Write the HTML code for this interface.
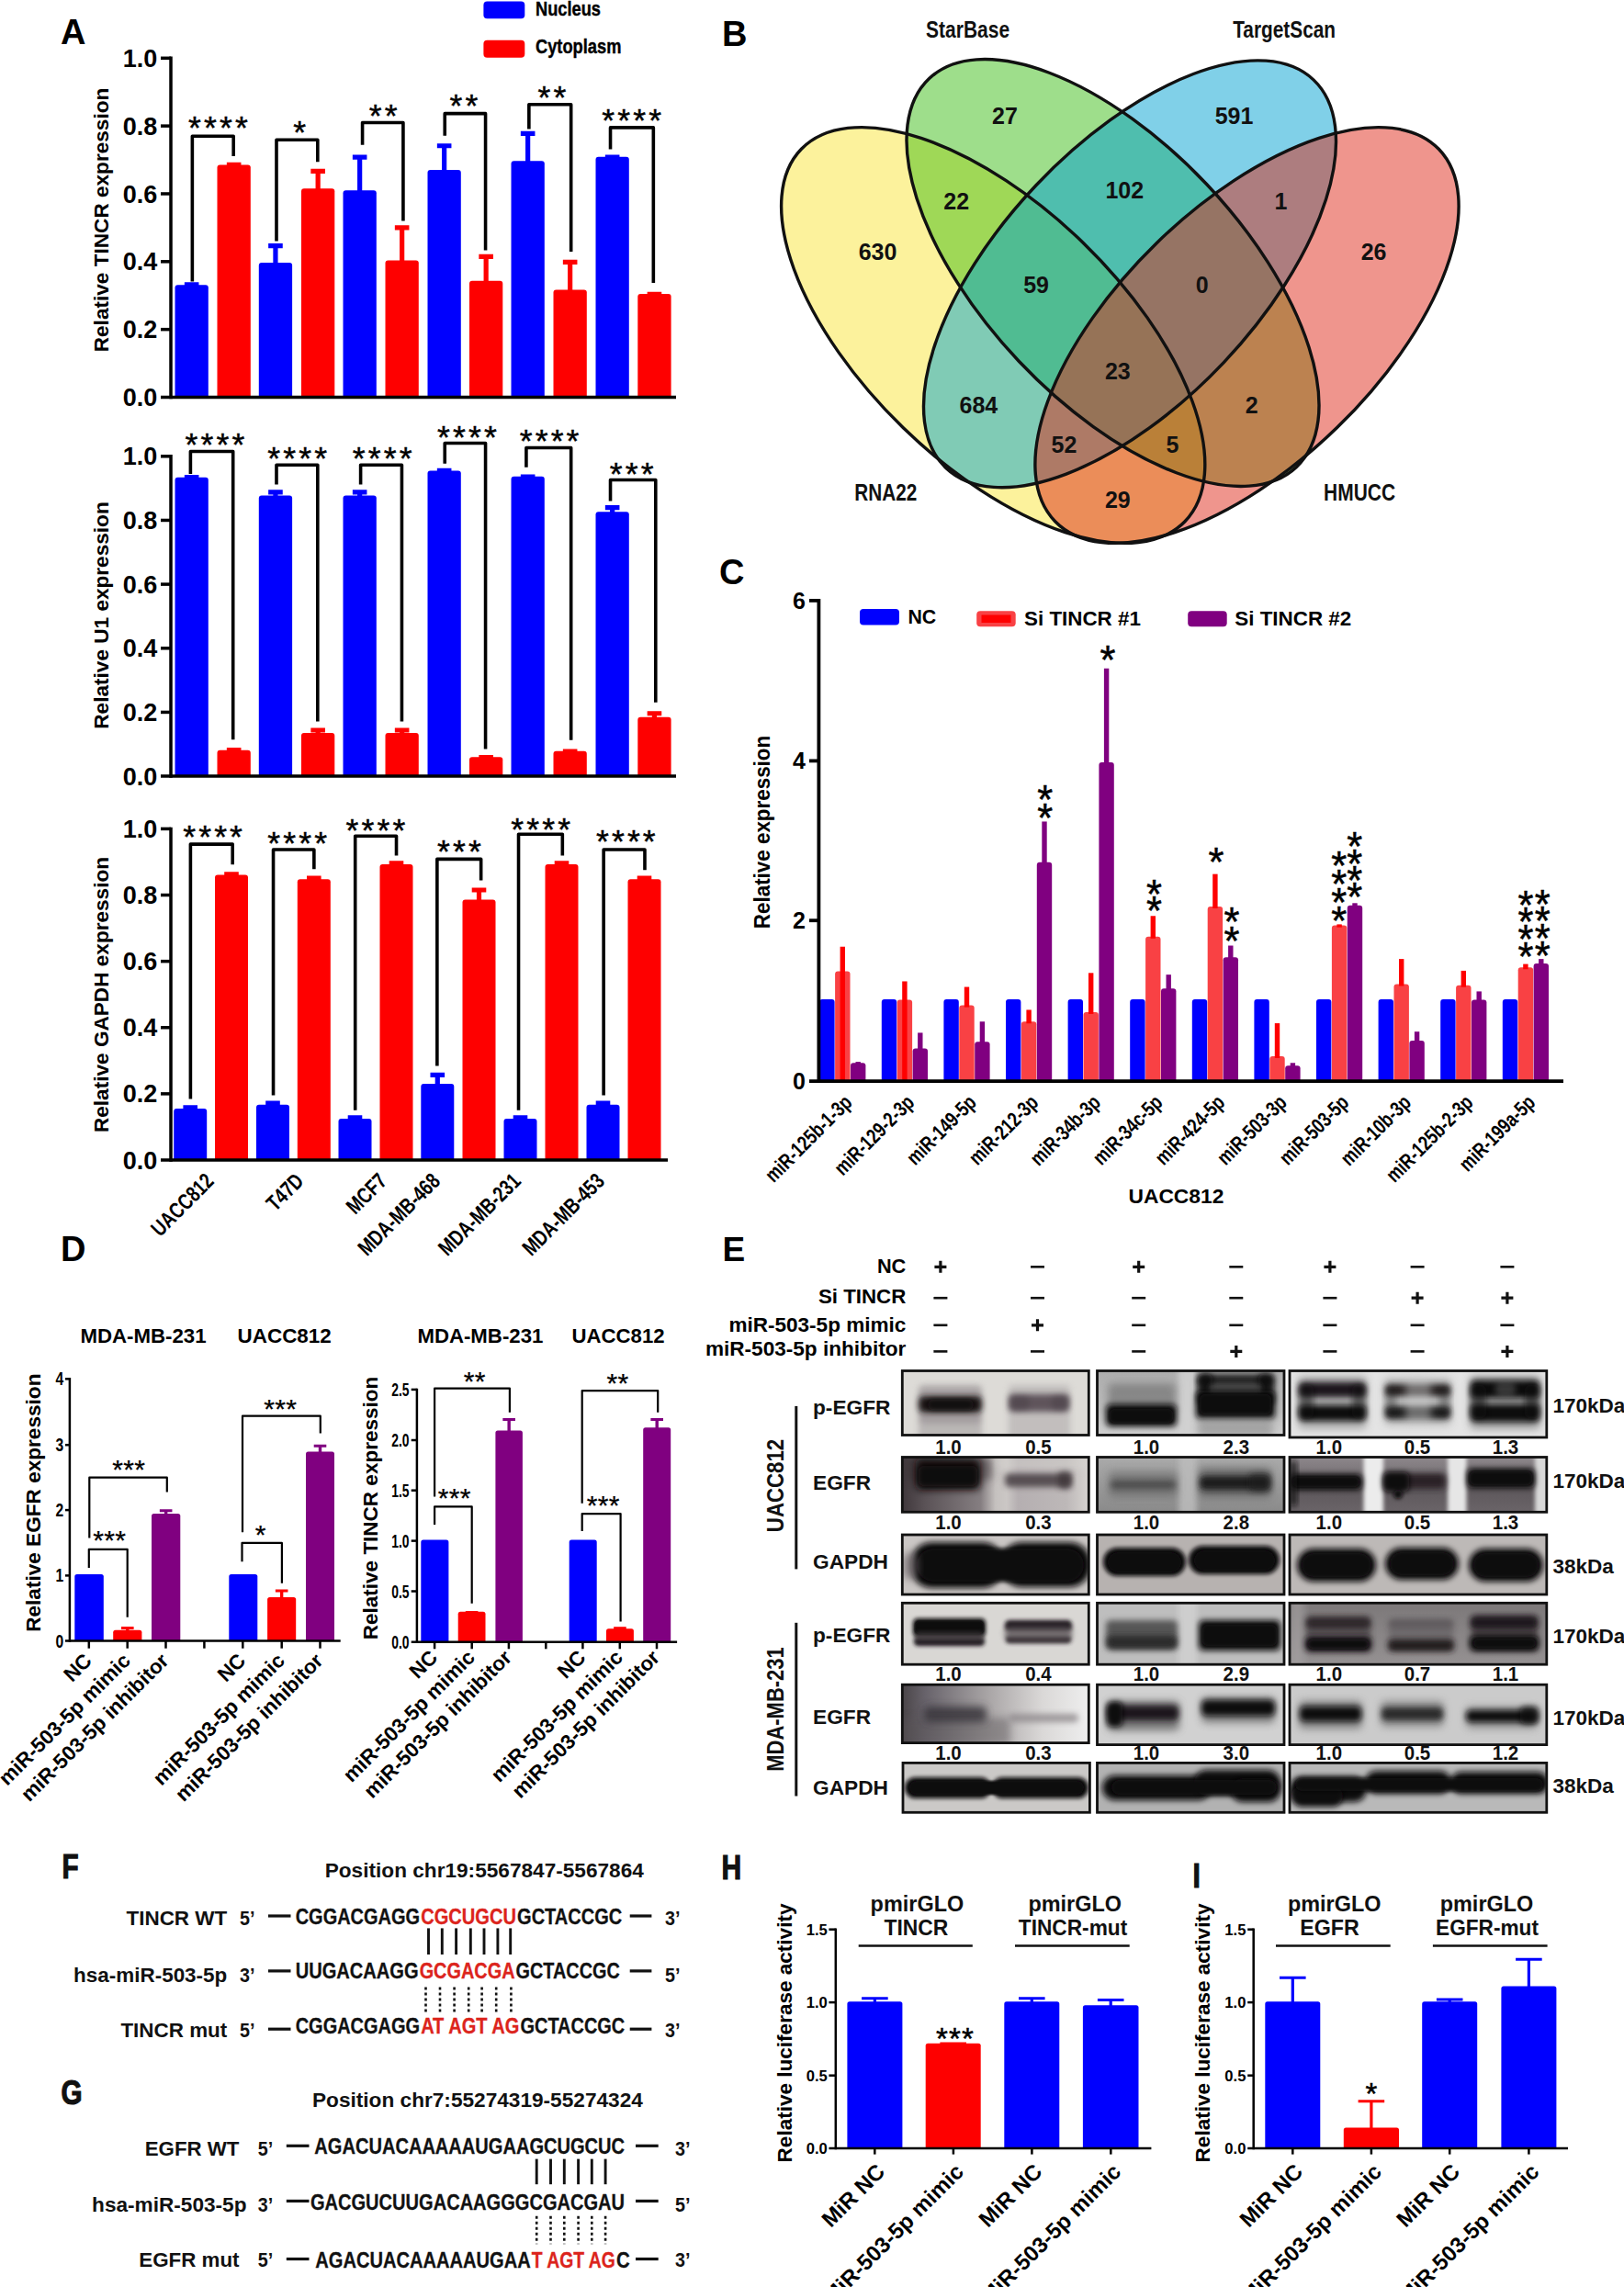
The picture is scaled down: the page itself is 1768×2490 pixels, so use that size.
<!DOCTYPE html>
<html lang="en"><head><meta charset="utf-8"><title>Figure</title>
<style>
html,body{margin:0;padding:0;background:#fff}
body{width:1768px;height:2490px;overflow:hidden}
svg{display:block}
svg text{font-family:"Liberation Sans",sans-serif;font-weight:700}
</style></head><body>
<svg width="1768" height="2490" viewBox="0 0 1768 2490">
<rect width="1768" height="2490" fill="#fff"/>
<g id="pA">
<text transform="translate(66.00 48.40)" font-size="38">A</text>
<rect x="526.40" y="1.50" width="44.90" height="18.80" fill="#0000fe" rx="4"/>
<rect x="526.40" y="43.80" width="44.90" height="19.00" fill="#fe0000" rx="4"/>
<text transform="translate(583.00 16.80) scale(0.8296 1)" font-size="22" stroke="#000" stroke-width="0.4">Nucleus</text>
<text transform="translate(583.00 58.30) scale(0.8313 1)" font-size="22" stroke="#000" stroke-width="0.4">Cytoplasm</text>
<path fill="#0000fe" d="M190.50 432.50V313.13Q190.50 310.13 193.50 310.13H223.80Q226.80 310.13 226.80 313.13V432.50Z"/>
<path fill="#0000fe" d="M200.85 307.37h15.60v5.20h-5.20V312.33h-5.20V312.57h-5.20Z"/>
<path fill="#fe0000" d="M236.50 432.50V182.59Q236.50 179.59 239.50 179.59H269.80Q272.80 179.59 272.80 182.59V432.50Z"/>
<path fill="#fe0000" d="M246.85 176.83h15.60v5.20h-5.20V181.79h-5.20V182.03h-5.20Z"/>
<path fill="#0000fe" d="M281.80 432.50V288.99Q281.80 285.99 284.80 285.99H315.10Q318.10 285.99 318.10 288.99V432.50Z"/>
<path fill="#0000fe" d="M292.15 265.00h15.60v5.20h-5.20V288.19h-5.20V270.20h-5.20Z"/>
<path fill="#fe0000" d="M328.00 432.50V208.20Q328.00 205.20 331.00 205.20H361.30Q364.30 205.20 364.30 208.20V432.50Z"/>
<path fill="#fe0000" d="M338.35 183.72h15.60v5.20h-5.20V207.40h-5.20V188.92h-5.20Z"/>
<path fill="#0000fe" d="M373.50 432.50V210.17Q373.50 207.17 376.50 207.17H406.80Q409.80 207.17 409.80 210.17V432.50Z"/>
<path fill="#0000fe" d="M383.85 168.45h15.60v5.20h-5.20V209.37h-5.20V173.65h-5.20Z"/>
<path fill="#fe0000" d="M419.50 432.50V286.53Q419.50 283.53 422.50 283.53H452.80Q455.80 283.53 455.80 286.53V432.50Z"/>
<path fill="#fe0000" d="M429.85 245.30h15.60v5.20h-5.20V285.73h-5.20V250.50h-5.20Z"/>
<path fill="#0000fe" d="M465.50 432.50V188.01Q465.50 185.01 468.50 185.01H498.80Q501.80 185.01 501.80 188.01V432.50Z"/>
<path fill="#0000fe" d="M475.85 156.14h15.60v5.20h-5.20V187.21h-5.20V161.34h-5.20Z"/>
<path fill="#fe0000" d="M511.00 432.50V308.70Q511.00 305.70 514.00 305.70H544.30Q547.30 305.70 547.30 308.70V432.50Z"/>
<path fill="#fe0000" d="M521.35 276.83h15.60v5.20h-5.20V307.90h-5.20V282.03h-5.20Z"/>
<path fill="#0000fe" d="M556.50 432.50V178.15Q556.50 175.15 559.50 175.15H589.80Q592.80 175.15 592.80 178.15V432.50Z"/>
<path fill="#0000fe" d="M566.85 142.83h15.60v5.20h-5.20V177.35h-5.20V148.03h-5.20Z"/>
<path fill="#fe0000" d="M602.50 432.50V318.55Q602.50 315.55 605.50 315.55H635.80Q638.80 315.55 638.80 318.55V432.50Z"/>
<path fill="#fe0000" d="M612.85 282.74h15.60v5.20h-5.20V317.75h-5.20V287.94h-5.20Z"/>
<path fill="#0000fe" d="M648.50 432.50V173.72Q648.50 170.72 651.50 170.72H681.80Q684.80 170.72 684.80 173.72V432.50Z"/>
<path fill="#0000fe" d="M658.85 168.45h15.60v5.20h-5.20V172.92h-5.20V173.65h-5.20Z"/>
<path fill="#fe0000" d="M694.30 432.50V322.98Q694.30 319.98 697.30 319.98H727.60Q730.60 319.98 730.60 322.98V432.50Z"/>
<path fill="#fe0000" d="M704.65 317.71h15.60v5.20h-5.20V322.18h-5.20V322.91h-5.20Z"/>
<line x1="186.00" y1="61.55" x2="186.00" y2="434.25" stroke="#000" stroke-width="3.5"/>
<line x1="175.00" y1="432.50" x2="736.00" y2="432.50" stroke="#000" stroke-width="3.5"/>
<text transform="translate(171.30 442.10)" font-size="27" text-anchor="end">0.0</text>
<line x1="175.00" y1="358.66" x2="186.00" y2="358.66" stroke="#000" stroke-width="3.5"/>
<text transform="translate(171.30 368.26)" font-size="27" text-anchor="end">0.2</text>
<line x1="175.00" y1="284.82" x2="186.00" y2="284.82" stroke="#000" stroke-width="3.5"/>
<text transform="translate(171.30 294.42)" font-size="27" text-anchor="end">0.4</text>
<line x1="175.00" y1="210.98" x2="186.00" y2="210.98" stroke="#000" stroke-width="3.5"/>
<text transform="translate(171.30 220.58)" font-size="27" text-anchor="end">0.6</text>
<line x1="175.00" y1="137.14" x2="186.00" y2="137.14" stroke="#000" stroke-width="3.5"/>
<text transform="translate(171.30 146.74)" font-size="27" text-anchor="end">0.8</text>
<line x1="175.00" y1="63.30" x2="186.00" y2="63.30" stroke="#000" stroke-width="3.5"/>
<text transform="translate(171.30 72.90)" font-size="27" text-anchor="end">1.0</text>
<text transform="translate(118.00 239.50) rotate(-90)" font-size="22.6" text-anchor="middle">Relative TINCR expression</text>
<path fill="none" stroke="#000" stroke-width="3.6" stroke-linejoin="round" d="M209.36 306.40V148.28H254.19V169.95"/>
<path fill="none" stroke="#000" stroke-width="3.6" stroke-linejoin="round" d="M300.99 262.56V152.22H345.81V176.35"/>
<path fill="none" stroke="#000" stroke-width="3.6" stroke-linejoin="round" d="M394.58 157.64V133.50H438.92V240.39"/>
<path fill="none" stroke="#000" stroke-width="3.6" stroke-linejoin="round" d="M484.24 147.78V123.65H528.57V272.41"/>
<path fill="none" stroke="#000" stroke-width="3.6" stroke-linejoin="round" d="M575.86 140.39V113.79H621.67V273.89"/>
<path fill="none" stroke="#000" stroke-width="3.6" stroke-linejoin="round" d="M664.53 162.56V138.92H711.33V307.88"/>
<text transform="translate(237.44 151.19)" font-size="35.5" text-anchor="middle" dx="1.59" letter-spacing="3.18" style="font-weight:400" stroke="#000" stroke-width="0.45">****</text>
<text transform="translate(326.11 156.12)" font-size="35.5" text-anchor="middle" dx="1.59" letter-spacing="3.18" style="font-weight:400" stroke="#000" stroke-width="0.45">*</text>
<text transform="translate(417.24 137.89)" font-size="35.5" text-anchor="middle" dx="1.59" letter-spacing="3.18" style="font-weight:400" stroke="#000" stroke-width="0.45">**</text>
<text transform="translate(504.93 126.56)" font-size="35.5" text-anchor="middle" dx="1.59" letter-spacing="3.18" style="font-weight:400" stroke="#000" stroke-width="0.45">**</text>
<text transform="translate(600.99 118.19)" font-size="35.5" text-anchor="middle" dx="1.59" letter-spacing="3.18" style="font-weight:400" stroke="#000" stroke-width="0.45">**</text>
<text transform="translate(687.68 142.82)" font-size="35.5" text-anchor="middle" dx="1.59" letter-spacing="3.18" style="font-weight:400" stroke="#000" stroke-width="0.45">****</text>
<path fill="#0000fe" d="M190.50 845.10V522.79Q190.50 519.79 193.50 519.79H223.80Q226.80 519.79 226.80 522.79V845.10Z"/>
<path fill="#0000fe" d="M200.85 517.02h15.60v5.20h-5.20V521.99h-5.20V522.22h-5.20Z"/>
<path fill="#fe0000" d="M236.50 845.10V819.83Q236.50 816.83 239.50 816.83H269.80Q272.80 816.83 272.80 819.83V845.10Z"/>
<path fill="#fe0000" d="M246.85 814.07h15.60v5.20h-5.20V819.03h-5.20V819.27h-5.20Z"/>
<path fill="#0000fe" d="M281.80 845.10V542.49Q281.80 539.49 284.80 539.49H315.10Q318.10 539.49 318.10 542.49V845.10Z"/>
<path fill="#0000fe" d="M292.15 533.28h15.60v5.20h-5.20V541.69h-5.20V538.48h-5.20Z"/>
<path fill="#fe0000" d="M328.00 845.10V801.11Q328.00 798.11 331.00 798.11H361.30Q364.30 798.11 364.30 801.11V845.10Z"/>
<path fill="#fe0000" d="M338.35 792.39h15.60v5.20h-5.20V800.31h-5.20V797.59h-5.20Z"/>
<path fill="#0000fe" d="M373.50 845.10V542.49Q373.50 539.49 376.50 539.49H406.80Q409.80 539.49 409.80 542.49V845.10Z"/>
<path fill="#0000fe" d="M383.85 533.28h15.60v5.20h-5.20V541.69h-5.20V538.48h-5.20Z"/>
<path fill="#fe0000" d="M419.50 845.10V801.11Q419.50 798.11 422.50 798.11H452.80Q455.80 798.11 455.80 801.11V845.10Z"/>
<path fill="#fe0000" d="M429.85 792.39h15.60v5.20h-5.20V800.31h-5.20V797.59h-5.20Z"/>
<path fill="#0000fe" d="M465.50 845.10V515.40Q465.50 512.40 468.50 512.40H498.80Q501.80 512.40 501.80 515.40V845.10Z"/>
<path fill="#0000fe" d="M475.85 509.63h15.60v5.20h-5.20V514.60h-5.20V514.83h-5.20Z"/>
<path fill="#fe0000" d="M511.00 845.10V827.22Q511.00 824.22 514.00 824.22H544.30Q547.30 824.22 547.30 827.22V845.10Z"/>
<path fill="#fe0000" d="M521.35 821.95h15.60v5.20h-5.20V826.42h-5.20V827.15h-5.20Z"/>
<path fill="#0000fe" d="M556.50 845.10V521.80Q556.50 518.80 559.50 518.80H589.80Q592.80 518.80 592.80 521.80V845.10Z"/>
<path fill="#0000fe" d="M566.85 516.53h15.60v5.20h-5.20V521.00h-5.20V521.73h-5.20Z"/>
<path fill="#fe0000" d="M602.50 845.10V820.81Q602.50 817.81 605.50 817.81H635.80Q638.80 817.81 638.80 820.81V845.10Z"/>
<path fill="#fe0000" d="M612.85 815.54h15.60v5.20h-5.20V820.01h-5.20V820.74h-5.20Z"/>
<path fill="#0000fe" d="M648.50 845.10V560.22Q648.50 557.22 651.50 557.22H681.80Q684.80 557.22 684.80 560.22V845.10Z"/>
<path fill="#0000fe" d="M658.85 550.03h15.60v5.20h-5.20V559.42h-5.20V555.23h-5.20Z"/>
<path fill="#fe0000" d="M694.30 845.10V783.87Q694.30 780.87 697.30 780.87H727.60Q730.60 780.87 730.60 783.87V845.10Z"/>
<path fill="#fe0000" d="M704.65 774.17h15.60v5.20h-5.20V783.07h-5.20V779.37h-5.20Z"/>
<line x1="186.00" y1="495.05" x2="186.00" y2="846.85" stroke="#000" stroke-width="3.5"/>
<line x1="175.00" y1="845.10" x2="736.00" y2="845.10" stroke="#000" stroke-width="3.5"/>
<text transform="translate(171.30 854.70)" font-size="27" text-anchor="end">0.0</text>
<line x1="175.00" y1="775.44" x2="186.00" y2="775.44" stroke="#000" stroke-width="3.5"/>
<text transform="translate(171.30 785.04)" font-size="27" text-anchor="end">0.2</text>
<line x1="175.00" y1="705.78" x2="186.00" y2="705.78" stroke="#000" stroke-width="3.5"/>
<text transform="translate(171.30 715.38)" font-size="27" text-anchor="end">0.4</text>
<line x1="175.00" y1="636.12" x2="186.00" y2="636.12" stroke="#000" stroke-width="3.5"/>
<text transform="translate(171.30 645.72)" font-size="27" text-anchor="end">0.6</text>
<line x1="175.00" y1="566.46" x2="186.00" y2="566.46" stroke="#000" stroke-width="3.5"/>
<text transform="translate(171.30 576.06)" font-size="27" text-anchor="end">0.8</text>
<line x1="175.00" y1="496.80" x2="186.00" y2="496.80" stroke="#000" stroke-width="3.5"/>
<text transform="translate(171.30 506.40)" font-size="27" text-anchor="end">1.0</text>
<text transform="translate(118.00 670.00) rotate(-90)" font-size="22.6" text-anchor="middle">Relative U1 expression</text>
<path fill="none" stroke="#000" stroke-width="3.6" stroke-linejoin="round" d="M207.39 516.06V491.43H253.69V805.22"/>
<path fill="none" stroke="#000" stroke-width="3.6" stroke-linejoin="round" d="M300.99 527.39V506.21H345.81V785.52"/>
<path fill="none" stroke="#000" stroke-width="3.6" stroke-linejoin="round" d="M392.61 527.39V506.21H437.44V785.52"/>
<path fill="none" stroke="#000" stroke-width="3.6" stroke-linejoin="round" d="M484.24 504.73V482.56H528.57V815.57"/>
<path fill="none" stroke="#000" stroke-width="3.6" stroke-linejoin="round" d="M572.91 508.67V487.49H621.67V805.71"/>
<path fill="none" stroke="#000" stroke-width="3.6" stroke-linejoin="round" d="M664.53 545.62V522.46H713.79V764.83"/>
<text transform="translate(233.99 495.82)" font-size="35.5" text-anchor="middle" dx="1.59" letter-spacing="3.18" style="font-weight:400" stroke="#000" stroke-width="0.45">****</text>
<text transform="translate(323.65 510.60)" font-size="35.5" text-anchor="middle" dx="1.59" letter-spacing="3.18" style="font-weight:400" stroke="#000" stroke-width="0.45">****</text>
<text transform="translate(416.26 510.60)" font-size="35.5" text-anchor="middle" dx="1.59" letter-spacing="3.18" style="font-weight:400" stroke="#000" stroke-width="0.45">****</text>
<text transform="translate(508.37 487.94)" font-size="35.5" text-anchor="middle" dx="1.59" letter-spacing="3.18" style="font-weight:400" stroke="#000" stroke-width="0.45">****</text>
<text transform="translate(598.03 491.88)" font-size="35.5" text-anchor="middle" dx="1.59" letter-spacing="3.18" style="font-weight:400" stroke="#000" stroke-width="0.45">****</text>
<text transform="translate(687.68 527.84)" font-size="35.5" text-anchor="middle" dx="1.59" letter-spacing="3.18" style="font-weight:400" stroke="#000" stroke-width="0.45">***</text>
<path fill="#0000fe" d="M189.20 1263.00V1210.08Q189.20 1207.08 192.20 1207.08H222.20Q225.20 1207.08 225.20 1210.08V1263.00Z"/>
<path fill="#0000fe" d="M199.40 1203.33h15.60v5.20h-5.20V1209.28h-5.20V1208.53h-5.20Z"/>
<path fill="#fe0000" d="M234.00 1263.00V955.40Q234.00 952.40 237.00 952.40H267.00Q270.00 952.40 270.00 955.40V1263.00Z"/>
<path fill="#fe0000" d="M244.20 949.14h15.60v5.20h-5.20V954.60h-5.20V954.34h-5.20Z"/>
<path fill="#0000fe" d="M279.00 1263.00V1205.64Q279.00 1202.64 282.00 1202.64H312.00Q315.00 1202.64 315.00 1205.64V1263.00Z"/>
<path fill="#0000fe" d="M289.20 1198.40h15.60v5.20h-5.20V1204.84h-5.20V1203.60h-5.20Z"/>
<path fill="#fe0000" d="M323.80 1263.00V960.32Q323.80 957.32 326.80 957.32H356.80Q359.80 957.32 359.80 960.32V1263.00Z"/>
<path fill="#fe0000" d="M334.00 953.57h15.60v5.20h-5.20V959.52h-5.20V958.77h-5.20Z"/>
<path fill="#0000fe" d="M368.50 1263.00V1220.91Q368.50 1217.91 371.50 1217.91H401.50Q404.50 1217.91 404.50 1220.91V1263.00Z"/>
<path fill="#0000fe" d="M378.70 1214.17h15.60v5.20h-5.20V1220.11h-5.20V1219.37h-5.20Z"/>
<path fill="#fe0000" d="M413.50 1263.00V944.07Q413.50 941.07 416.50 941.07H446.50Q449.50 941.07 449.50 944.07V1263.00Z"/>
<path fill="#fe0000" d="M423.70 937.32h15.60v5.20h-5.20V943.27h-5.20V942.52h-5.20Z"/>
<path fill="#0000fe" d="M458.30 1263.00V1182.98Q458.30 1179.98 461.30 1179.98H491.30Q494.30 1179.98 494.30 1182.98V1263.00Z"/>
<path fill="#0000fe" d="M468.50 1167.86h15.60v5.20h-5.20V1182.18h-5.20V1173.06h-5.20Z"/>
<path fill="#fe0000" d="M503.50 1263.00V982.49Q503.50 979.49 506.50 979.49H536.50Q539.50 979.49 539.50 982.49V1263.00Z"/>
<path fill="#fe0000" d="M513.70 966.38h15.60v5.20h-5.20V981.69h-5.20V971.58h-5.20Z"/>
<path fill="#0000fe" d="M548.50 1263.00V1220.91Q548.50 1217.91 551.50 1217.91H581.50Q584.50 1217.91 584.50 1220.91V1263.00Z"/>
<path fill="#0000fe" d="M558.70 1214.17h15.60v5.20h-5.20V1220.11h-5.20V1219.37h-5.20Z"/>
<path fill="#fe0000" d="M593.50 1263.00V944.07Q593.50 941.07 596.50 941.07H626.50Q629.50 941.07 629.50 944.07V1263.00Z"/>
<path fill="#fe0000" d="M603.70 937.32h15.60v5.20h-5.20V943.27h-5.20V942.52h-5.20Z"/>
<path fill="#0000fe" d="M638.50 1263.00V1205.64Q638.50 1202.64 641.50 1202.64H671.50Q674.50 1202.64 674.50 1205.64V1263.00Z"/>
<path fill="#0000fe" d="M648.70 1198.40h15.60v5.20h-5.20V1204.84h-5.20V1203.60h-5.20Z"/>
<path fill="#fe0000" d="M683.50 1263.00V960.32Q683.50 957.32 686.50 957.32H716.50Q719.50 957.32 719.50 960.32V1263.00Z"/>
<path fill="#fe0000" d="M693.70 953.57h15.60v5.20h-5.20V959.52h-5.20V958.77h-5.20Z"/>
<line x1="186.00" y1="900.65" x2="186.00" y2="1264.75" stroke="#000" stroke-width="3.5"/>
<line x1="175.00" y1="1263.00" x2="727.00" y2="1263.00" stroke="#000" stroke-width="3.5"/>
<text transform="translate(171.30 1272.60)" font-size="27" text-anchor="end">0.0</text>
<line x1="175.00" y1="1190.88" x2="186.00" y2="1190.88" stroke="#000" stroke-width="3.5"/>
<text transform="translate(171.30 1200.48)" font-size="27" text-anchor="end">0.2</text>
<line x1="175.00" y1="1118.76" x2="186.00" y2="1118.76" stroke="#000" stroke-width="3.5"/>
<text transform="translate(171.30 1128.36)" font-size="27" text-anchor="end">0.4</text>
<line x1="175.00" y1="1046.64" x2="186.00" y2="1046.64" stroke="#000" stroke-width="3.5"/>
<text transform="translate(171.30 1056.24)" font-size="27" text-anchor="end">0.6</text>
<line x1="175.00" y1="974.52" x2="186.00" y2="974.52" stroke="#000" stroke-width="3.5"/>
<text transform="translate(171.30 984.12)" font-size="27" text-anchor="end">0.8</text>
<line x1="175.00" y1="902.40" x2="186.00" y2="902.40" stroke="#000" stroke-width="3.5"/>
<text transform="translate(171.30 912.00)" font-size="27" text-anchor="end">1.0</text>
<text transform="translate(118.00 1083.00) rotate(-90)" font-size="22.6" text-anchor="middle">Relative GAPDH expression</text>
<path fill="none" stroke="#000" stroke-width="3.6" stroke-linejoin="round" d="M207.39 1196.45V919.11H253.20V941.28"/>
<path fill="none" stroke="#000" stroke-width="3.6" stroke-linejoin="round" d="M297.54 1192.51V925.02H341.87V946.21"/>
<path fill="none" stroke="#000" stroke-width="3.6" stroke-linejoin="round" d="M386.70 1208.77V910.25H431.53V931.43"/>
<path fill="none" stroke="#000" stroke-width="3.6" stroke-linejoin="round" d="M475.86 1160.49V935.37H523.65V958.52"/>
<path fill="none" stroke="#000" stroke-width="3.6" stroke-linejoin="round" d="M564.53 1208.77V908.28H612.32V931.43"/>
<path fill="none" stroke="#000" stroke-width="3.6" stroke-linejoin="round" d="M657.14 1192.51V925.02H701.97V947.19"/>
<text transform="translate(231.53 923.02)" font-size="35.5" text-anchor="middle" dx="1.59" letter-spacing="3.18" style="font-weight:400" stroke="#000" stroke-width="0.45">****</text>
<text transform="translate(323.65 930.41)" font-size="35.5" text-anchor="middle" dx="1.59" letter-spacing="3.18" style="font-weight:400" stroke="#000" stroke-width="0.45">****</text>
<text transform="translate(408.87 915.63)" font-size="35.5" text-anchor="middle" dx="1.59" letter-spacing="3.18" style="font-weight:400" stroke="#000" stroke-width="0.45">****</text>
<text transform="translate(500.00 939.27)" font-size="35.5" text-anchor="middle" dx="1.59" letter-spacing="3.18" style="font-weight:400" stroke="#000" stroke-width="0.45">***</text>
<text transform="translate(588.67 914.64)" font-size="35.5" text-anchor="middle" dx="1.59" letter-spacing="3.18" style="font-weight:400" stroke="#000" stroke-width="0.45">****</text>
<text transform="translate(681.28 928.44)" font-size="35.5" text-anchor="middle" dx="1.59" letter-spacing="3.18" style="font-weight:400" stroke="#000" stroke-width="0.45">****</text>
<text transform="translate(234.10 1287.50) rotate(-45) scale(0.7750 1)" font-size="24" text-anchor="end">UACC812</text>
<text transform="translate(332.00 1287.50) rotate(-45) scale(0.7750 1)" font-size="24" text-anchor="end">T47D</text>
<text transform="translate(422.50 1287.50) rotate(-45) scale(0.7750 1)" font-size="24" text-anchor="end">MCF7</text>
<text transform="translate(480.50 1287.50) rotate(-45) scale(0.7750 1)" font-size="24" text-anchor="end">MDA-MB-468</text>
<text transform="translate(568.20 1287.50) rotate(-45) scale(0.7750 1)" font-size="24" text-anchor="end">MDA-MB-231</text>
<text transform="translate(659.50 1287.50) rotate(-45) scale(0.7750 1)" font-size="24" text-anchor="end">MDA-MB-453</text>
</g>
<g id="pB">
<defs><clipPath id="vcY"><ellipse cx="0" cy="0" rx="291" ry="140.5" transform="translate(1081.20 365.00) rotate(44.15)"/></clipPath><clipPath id="vcG"><ellipse cx="0" cy="0" rx="291" ry="140.5" transform="translate(1211.50 297.00) rotate(46.6)"/></clipPath><clipPath id="vcB"><ellipse cx="0" cy="0" rx="291" ry="140.5" transform="translate(1230.00 298.30) rotate(-46.6)"/></clipPath><clipPath id="vcR"><ellipse cx="0" cy="0" rx="291" ry="140.5" transform="translate(1357.50 365.00) rotate(-44.15)"/></clipPath></defs>
<ellipse cx="0" cy="0" rx="291" ry="140.5" transform="translate(1081.20 365.00) rotate(44.15)" fill="#fcf29c"/>
<ellipse cx="0" cy="0" rx="291" ry="140.5" transform="translate(1211.50 297.00) rotate(46.6)" fill="#9ede8b"/>
<ellipse cx="0" cy="0" rx="291" ry="140.5" transform="translate(1230.00 298.30) rotate(-46.6)" fill="#80d0e8"/>
<ellipse cx="0" cy="0" rx="291" ry="140.5" transform="translate(1357.50 365.00) rotate(-44.15)" fill="#ef958d"/>
<g clip-path="url(#vcG)"><ellipse cx="0" cy="0" rx="291" ry="140.5" transform="translate(1081.20 365.00) rotate(44.15)" fill="#9fd857"/></g>
<g clip-path="url(#vcB)"><ellipse cx="0" cy="0" rx="291" ry="140.5" transform="translate(1211.50 297.00) rotate(46.6)" fill="#4fbeae"/></g>
<g clip-path="url(#vcR)"><ellipse cx="0" cy="0" rx="291" ry="140.5" transform="translate(1230.00 298.30) rotate(-46.6)" fill="#ad7d7f"/></g>
<g clip-path="url(#vcB)"><ellipse cx="0" cy="0" rx="291" ry="140.5" transform="translate(1081.20 365.00) rotate(44.15)" fill="#80cbb5"/></g>
<g clip-path="url(#vcR)"><ellipse cx="0" cy="0" rx="291" ry="140.5" transform="translate(1211.50 297.00) rotate(46.6)" fill="#bc8250"/></g>
<g clip-path="url(#vcR)"><ellipse cx="0" cy="0" rx="291" ry="140.5" transform="translate(1081.20 365.00) rotate(44.15)" fill="#eb8d59"/></g>
<g clip-path="url(#vcB)"><g clip-path="url(#vcG)"><ellipse cx="0" cy="0" rx="291" ry="140.5" transform="translate(1081.20 365.00) rotate(44.15)" fill="#50bc92"/></g></g>
<g clip-path="url(#vcR)"><g clip-path="url(#vcB)"><ellipse cx="0" cy="0" rx="291" ry="140.5" transform="translate(1211.50 297.00) rotate(46.6)" fill="#967464"/></g></g>
<g clip-path="url(#vcR)"><g clip-path="url(#vcB)"><ellipse cx="0" cy="0" rx="291" ry="140.5" transform="translate(1081.20 365.00) rotate(44.15)" fill="#ae7a66"/></g></g>
<g clip-path="url(#vcR)"><g clip-path="url(#vcG)"><ellipse cx="0" cy="0" rx="291" ry="140.5" transform="translate(1081.20 365.00) rotate(44.15)" fill="#ba8038"/></g></g>
<g clip-path="url(#vcR)"><g clip-path="url(#vcB)"><g clip-path="url(#vcG)"><ellipse cx="0" cy="0" rx="291" ry="140.5" transform="translate(1081.20 365.00) rotate(44.15)" fill="#967357"/></g></g></g>
<ellipse cx="0" cy="0" rx="291" ry="140.5" transform="translate(1081.20 365.00) rotate(44.15)" fill="none" stroke="#111" stroke-width="3.4"/>
<ellipse cx="0" cy="0" rx="291" ry="140.5" transform="translate(1211.50 297.00) rotate(46.6)" fill="none" stroke="#111" stroke-width="3.4"/>
<ellipse cx="0" cy="0" rx="291" ry="140.5" transform="translate(1230.00 298.30) rotate(-46.6)" fill="none" stroke="#111" stroke-width="3.4"/>
<ellipse cx="0" cy="0" rx="291" ry="140.5" transform="translate(1357.50 365.00) rotate(-44.15)" fill="none" stroke="#111" stroke-width="3.4"/>
<text transform="translate(1093.95 135.01)" font-size="25" text-anchor="middle" fill="#111">27</text>
<text transform="translate(1343.49 135.01)" font-size="25" text-anchor="middle" fill="#111">591</text>
<text transform="translate(1041.19 228.12)" font-size="25" text-anchor="middle" fill="#111">22</text>
<text transform="translate(1224.31 215.70)" font-size="25" text-anchor="middle" fill="#111">102</text>
<text transform="translate(1394.39 228.12)" font-size="25" text-anchor="middle" fill="#111">1</text>
<text transform="translate(955.53 282.74)" font-size="25" text-anchor="middle" fill="#111">630</text>
<text transform="translate(1495.57 282.74)" font-size="25" text-anchor="middle" fill="#111">26</text>
<text transform="translate(1128.09 319.37)" font-size="25" text-anchor="middle" fill="#111">59</text>
<text transform="translate(1308.73 319.37)" font-size="25" text-anchor="middle" fill="#111">0</text>
<text transform="translate(1216.86 413.10)" font-size="25" text-anchor="middle" fill="#111">23</text>
<text transform="translate(1065.40 450.34)" font-size="25" text-anchor="middle" fill="#111">684</text>
<text transform="translate(1362.73 450.34)" font-size="25" text-anchor="middle" fill="#111">2</text>
<text transform="translate(1158.51 492.55)" font-size="25" text-anchor="middle" fill="#111">52</text>
<text transform="translate(1276.45 492.55)" font-size="25" text-anchor="middle" fill="#111">5</text>
<text transform="translate(1216.86 553.38)" font-size="25" text-anchor="middle" fill="#111">29</text>
<text transform="translate(1053.61 41.28) scale(0.8395 1)" font-size="25" text-anchor="middle" fill="#111">StarBase</text>
<text transform="translate(1398.11 41.28) scale(0.8339 1)" font-size="25" text-anchor="middle" fill="#111">TargetScan</text>
<text transform="translate(964.22 544.69) scale(0.8296 1)" font-size="25" text-anchor="middle" fill="#111">RNA22</text>
<text transform="translate(1480.05 544.69) scale(0.8383 1)" font-size="25" text-anchor="middle" fill="#111">HMUCC</text>
<text transform="translate(786.00 49.70)" font-size="38">B</text>
</g>
<g id="pC">
<path fill="#0000fe" d="M892.20 1177.20V1090.90Q892.20 1087.90 895.20 1087.90H905.60Q908.60 1087.90 908.60 1090.90V1177.20Z"/>
<path fill="#f94144" d="M909.10 1177.20V1060.50Q909.10 1057.50 912.10 1057.50H922.50Q925.50 1057.50 925.50 1060.50V1177.20Z"/>
<rect x="914.60" y="1030.74" width="5.40" height="146.46" fill="#fe0000"/>
<path fill="#800080" d="M926.00 1177.20V1160.28Q926.00 1157.28 929.00 1157.28H939.40Q942.40 1157.28 942.40 1160.28V1177.20Z"/>
<rect x="931.50" y="1156.06" width="5.40" height="3.22" fill="#800080"/>
<path fill="#0000fe" d="M959.80 1177.20V1090.90Q959.80 1087.90 962.80 1087.90H973.20Q976.20 1087.90 976.20 1090.90V1177.20Z"/>
<path fill="#f94144" d="M976.70 1177.20V1091.53Q976.70 1088.53 979.70 1088.53H990.10Q993.10 1088.53 993.10 1091.53V1177.20Z"/>
<rect x="982.20" y="1068.46" width="5.40" height="108.74" fill="#fe0000"/>
<path fill="#800080" d="M993.60 1177.20V1144.46Q993.60 1141.46 996.60 1141.46H1007.00Q1010.00 1141.46 1010.00 1144.46V1177.20Z"/>
<rect x="999.10" y="1124.43" width="5.40" height="19.03" fill="#800080"/>
<path fill="#0000fe" d="M1027.40 1177.20V1090.90Q1027.40 1087.90 1030.40 1087.90H1040.80Q1043.80 1087.90 1043.80 1090.90V1177.20Z"/>
<path fill="#f94144" d="M1044.30 1177.20V1097.62Q1044.30 1094.62 1047.30 1094.62H1057.70Q1060.70 1094.62 1060.70 1097.62V1177.20Z"/>
<rect x="1049.80" y="1074.54" width="5.40" height="22.08" fill="#fe0000"/>
<path fill="#800080" d="M1061.20 1177.20V1137.16Q1061.20 1134.16 1064.20 1134.16H1074.60Q1077.60 1134.16 1077.60 1137.16V1177.20Z"/>
<rect x="1066.70" y="1112.26" width="5.40" height="23.90" fill="#800080"/>
<path fill="#0000fe" d="M1095.00 1177.20V1090.90Q1095.00 1087.90 1098.00 1087.90H1108.40Q1111.40 1087.90 1111.40 1090.90V1177.20Z"/>
<path fill="#f94144" d="M1111.90 1177.20V1115.26Q1111.90 1112.26 1114.90 1112.26H1125.30Q1128.30 1112.26 1128.30 1115.26V1177.20Z"/>
<rect x="1117.40" y="1099.48" width="5.40" height="14.78" fill="#fe0000"/>
<path fill="#800080" d="M1128.80 1177.20V941.87Q1128.80 938.87 1131.80 938.87H1142.20Q1145.20 938.87 1145.20 941.87V1177.20Z"/>
<rect x="1134.30" y="894.46" width="5.40" height="46.41" fill="#800080"/>
<path fill="#0000fe" d="M1162.60 1177.20V1090.90Q1162.60 1087.90 1165.60 1087.90H1176.00Q1179.00 1087.90 1179.00 1090.90V1177.20Z"/>
<path fill="#f94144" d="M1179.50 1177.20V1104.92Q1179.50 1101.92 1182.50 1101.92H1192.90Q1195.90 1101.92 1195.90 1104.92V1177.20Z"/>
<rect x="1185.00" y="1059.33" width="5.40" height="44.59" fill="#fe0000"/>
<path fill="#800080" d="M1196.40 1177.20V832.97Q1196.40 829.97 1199.40 829.97H1209.80Q1212.80 829.97 1212.80 832.97V1177.20Z"/>
<rect x="1201.90" y="727.76" width="5.40" height="104.21" fill="#800080"/>
<path fill="#0000fe" d="M1230.20 1177.20V1090.90Q1230.20 1087.90 1233.20 1087.90H1243.60Q1246.60 1087.90 1246.60 1090.90V1177.20Z"/>
<path fill="#f94144" d="M1247.10 1177.20V1022.78Q1247.10 1019.78 1250.10 1019.78H1260.50Q1263.50 1019.78 1263.50 1022.78V1177.20Z"/>
<rect x="1252.60" y="997.27" width="5.40" height="24.51" fill="#fe0000"/>
<path fill="#800080" d="M1264.00 1177.20V1079.36Q1264.00 1076.36 1267.00 1076.36H1277.40Q1280.40 1076.36 1280.40 1079.36V1177.20Z"/>
<rect x="1269.50" y="1061.15" width="5.40" height="17.21" fill="#800080"/>
<path fill="#0000fe" d="M1297.80 1177.20V1090.90Q1297.80 1087.90 1300.80 1087.90H1311.20Q1314.20 1087.90 1314.20 1090.90V1177.20Z"/>
<path fill="#f94144" d="M1314.70 1177.20V989.93Q1314.70 986.93 1317.70 986.93H1328.10Q1331.10 986.93 1331.10 989.93V1177.20Z"/>
<rect x="1320.20" y="951.65" width="5.40" height="37.29" fill="#fe0000"/>
<path fill="#800080" d="M1331.60 1177.20V1045.29Q1331.60 1042.29 1334.60 1042.29H1345.00Q1348.00 1042.29 1348.00 1045.29V1177.20Z"/>
<rect x="1337.10" y="1029.52" width="5.40" height="14.78" fill="#800080"/>
<path fill="#0000fe" d="M1365.40 1177.20V1090.90Q1365.40 1087.90 1368.40 1087.90H1378.80Q1381.80 1087.90 1381.80 1090.90V1177.20Z"/>
<path fill="#f94144" d="M1382.30 1177.20V1152.98Q1382.30 1149.98 1385.30 1149.98H1395.70Q1398.70 1149.98 1398.70 1152.98V1177.20Z"/>
<rect x="1387.80" y="1114.08" width="5.40" height="37.89" fill="#fe0000"/>
<path fill="#800080" d="M1399.20 1177.20V1163.32Q1399.20 1160.32 1402.20 1160.32H1412.60Q1415.60 1160.32 1415.60 1163.32V1177.20Z"/>
<rect x="1404.70" y="1157.28" width="5.40" height="5.04" fill="#800080"/>
<path fill="#0000fe" d="M1433.00 1177.20V1090.90Q1433.00 1087.90 1436.00 1087.90H1446.40Q1449.40 1087.90 1449.40 1090.90V1177.20Z"/>
<path fill="#f94144" d="M1449.90 1177.20V1010.62Q1449.90 1007.62 1452.90 1007.62H1463.30Q1466.30 1007.62 1466.30 1010.62V1177.20Z"/>
<rect x="1455.40" y="1006.40" width="5.40" height="3.22" fill="#fe0000"/>
<path fill="#800080" d="M1466.80 1177.20V988.72Q1466.80 985.72 1469.80 985.72H1480.20Q1483.20 985.72 1483.20 988.72V1177.20Z"/>
<rect x="1472.30" y="983.28" width="5.40" height="4.43" fill="#800080"/>
<path fill="#0000fe" d="M1500.60 1177.20V1090.90Q1500.60 1087.90 1503.60 1087.90H1514.00Q1517.00 1087.90 1517.00 1090.90V1177.20Z"/>
<path fill="#f94144" d="M1517.50 1177.20V1074.50Q1517.50 1071.50 1520.50 1071.50H1530.90Q1533.90 1071.50 1533.90 1074.50V1177.20Z"/>
<rect x="1523.00" y="1044.12" width="5.40" height="29.38" fill="#fe0000"/>
<path fill="#800080" d="M1534.40 1177.20V1135.94Q1534.40 1132.94 1537.40 1132.94H1547.80Q1550.80 1132.94 1550.80 1135.94V1177.20Z"/>
<rect x="1539.90" y="1123.21" width="5.40" height="11.73" fill="#800080"/>
<path fill="#0000fe" d="M1568.20 1177.20V1090.90Q1568.20 1087.90 1571.20 1087.90H1581.60Q1584.60 1087.90 1584.60 1090.90V1177.20Z"/>
<path fill="#f94144" d="M1585.10 1177.20V1075.71Q1585.10 1072.71 1588.10 1072.71H1598.50Q1601.50 1072.71 1601.50 1075.71V1177.20Z"/>
<rect x="1590.60" y="1056.90" width="5.40" height="17.82" fill="#fe0000"/>
<path fill="#800080" d="M1602.00 1177.20V1091.53Q1602.00 1088.53 1605.00 1088.53H1615.40Q1618.40 1088.53 1618.40 1091.53V1177.20Z"/>
<rect x="1607.50" y="1079.41" width="5.40" height="11.13" fill="#800080"/>
<path fill="#0000fe" d="M1635.80 1177.20V1090.90Q1635.80 1087.90 1638.80 1087.90H1649.20Q1652.20 1087.90 1652.20 1090.90V1177.20Z"/>
<path fill="#f94144" d="M1652.70 1177.20V1056.25Q1652.70 1053.25 1655.70 1053.25H1666.10Q1669.10 1053.25 1669.10 1056.25V1177.20Z"/>
<rect x="1658.20" y="1049.60" width="5.40" height="5.65" fill="#fe0000"/>
<path fill="#800080" d="M1669.60 1177.20V1051.99Q1669.60 1048.99 1672.60 1048.99H1683.00Q1686.00 1048.99 1686.00 1051.99V1177.20Z"/>
<rect x="1675.10" y="1044.12" width="5.40" height="6.87" fill="#800080"/>
<line x1="891.40" y1="652.00" x2="891.40" y2="1179.10" stroke="#000" stroke-width="3.8"/>
<line x1="881.00" y1="1177.20" x2="1702.00" y2="1177.20" stroke="#000" stroke-width="3.8"/>
<line x1="881.00" y1="653.90" x2="891.40" y2="653.90" stroke="#000" stroke-width="3.8"/>
<text transform="translate(877.00 662.90)" font-size="25" text-anchor="end">6</text>
<line x1="881.00" y1="828.40" x2="891.40" y2="828.40" stroke="#000" stroke-width="3.8"/>
<text transform="translate(877.00 837.40)" font-size="25" text-anchor="end">4</text>
<line x1="881.00" y1="1002.20" x2="891.40" y2="1002.20" stroke="#000" stroke-width="3.8"/>
<text transform="translate(877.00 1011.20)" font-size="25" text-anchor="end">2</text>
<text transform="translate(877.00 1186.20)" font-size="25" text-anchor="end">0</text>
<text transform="translate(838.30 906.00) rotate(-90) scale(0.9743 1)" font-size="23" text-anchor="middle">Relative expression</text>
<text transform="translate(1280.40 1309.50)" font-size="22.8" text-anchor="middle">UACC812</text>
<text transform="translate(783.00 636.00)" font-size="38">C</text>
<rect x="936.00" y="663.00" width="43.00" height="17.60" fill="#0000fe" rx="4"/>
<text transform="translate(988.40 679.30) scale(0.9520 1)" font-size="22.4">NC</text>
<rect x="1063.20" y="665.30" width="42.50" height="16.90" fill="#f94144" rx="4"/>
<rect x="1068.50" y="669.50" width="32.00" height="8.50" fill="#fe0000"/>
<text transform="translate(1115.00 681.00)" font-size="22.4">Si TINCR #1</text>
<rect x="1293.20" y="665.30" width="42.50" height="16.90" fill="#800080" rx="4"/>
<text transform="translate(1344.30 681.00)" font-size="22.4">Si TINCR #2</text>
<text transform="translate(1137.73 863.43)" font-size="43.5" text-anchor="middle" y="22.32" style="font-weight:400" stroke="#000" stroke-width="0.5">*</text>
<text transform="translate(1137.73 883.51)" font-size="43.5" text-anchor="middle" y="22.32" style="font-weight:400" stroke="#000" stroke-width="0.5">*</text>
<text transform="translate(1205.87 711.33)" font-size="43.5" text-anchor="middle" y="22.32" style="font-weight:400" stroke="#000" stroke-width="0.5">*</text>
<text transform="translate(1256.36 966.25)" font-size="43.5" text-anchor="middle" y="22.32" style="font-weight:400" stroke="#000" stroke-width="0.5">*</text>
<text transform="translate(1256.36 985.11)" font-size="43.5" text-anchor="middle" y="22.32" style="font-weight:400" stroke="#000" stroke-width="0.5">*</text>
<text transform="translate(1323.89 931.57)" font-size="43.5" text-anchor="middle" y="22.32" style="font-weight:400" stroke="#000" stroke-width="0.5">*</text>
<text transform="translate(1340.93 996.67)" font-size="43.5" text-anchor="middle" y="22.32" style="font-weight:400" stroke="#000" stroke-width="0.5">*</text>
<text transform="translate(1340.93 1017.35)" font-size="43.5" text-anchor="middle" y="22.32" style="font-weight:400" stroke="#000" stroke-width="0.5">*</text>
<text transform="translate(1457.74 935.83)" font-size="43.5" text-anchor="middle" y="22.32" style="font-weight:400" stroke="#000" stroke-width="0.5">*</text>
<text transform="translate(1457.74 955.90)" font-size="43.5" text-anchor="middle" y="22.32" style="font-weight:400" stroke="#000" stroke-width="0.5">*</text>
<text transform="translate(1457.74 975.98)" font-size="43.5" text-anchor="middle" y="22.32" style="font-weight:400" stroke="#000" stroke-width="0.5">*</text>
<text transform="translate(1457.74 996.06)" font-size="43.5" text-anchor="middle" y="22.32" style="font-weight:400" stroke="#000" stroke-width="0.5">*</text>
<text transform="translate(1474.77 915.14)" font-size="43.5" text-anchor="middle" y="22.32" style="font-weight:400" stroke="#000" stroke-width="0.5">*</text>
<text transform="translate(1474.77 933.39)" font-size="43.5" text-anchor="middle" y="22.32" style="font-weight:400" stroke="#000" stroke-width="0.5">*</text>
<text transform="translate(1474.77 951.65)" font-size="43.5" text-anchor="middle" y="22.32" style="font-weight:400" stroke="#000" stroke-width="0.5">*</text>
<text transform="translate(1474.77 969.90)" font-size="43.5" text-anchor="middle" y="22.32" style="font-weight:400" stroke="#000" stroke-width="0.5">*</text>
<text transform="translate(1660.94 978.41)" font-size="43.5" text-anchor="middle" y="22.32" style="font-weight:400" stroke="#000" stroke-width="0.5">*</text>
<text transform="translate(1660.94 996.67)" font-size="43.5" text-anchor="middle" y="22.32" style="font-weight:400" stroke="#000" stroke-width="0.5">*</text>
<text transform="translate(1660.94 1015.53)" font-size="43.5" text-anchor="middle" y="22.32" style="font-weight:400" stroke="#000" stroke-width="0.5">*</text>
<text transform="translate(1660.94 1034.39)" font-size="43.5" text-anchor="middle" y="22.32" style="font-weight:400" stroke="#000" stroke-width="0.5">*</text>
<text transform="translate(1679.19 977.20)" font-size="43.5" text-anchor="middle" y="22.32" style="font-weight:400" stroke="#000" stroke-width="0.5">*</text>
<text transform="translate(1679.19 996.06)" font-size="43.5" text-anchor="middle" y="22.32" style="font-weight:400" stroke="#000" stroke-width="0.5">*</text>
<text transform="translate(1679.19 1014.92)" font-size="43.5" text-anchor="middle" y="22.32" style="font-weight:400" stroke="#000" stroke-width="0.5">*</text>
<text transform="translate(1679.19 1033.78)" font-size="43.5" text-anchor="middle" y="22.32" style="font-weight:400" stroke="#000" stroke-width="0.5">*</text>
<text transform="translate(929.00 1201.80) rotate(-45) scale(0.7750 1)" font-size="23" text-anchor="end">miR-125b-1-3p</text>
<text transform="translate(996.60 1201.80) rotate(-45) scale(0.7750 1)" font-size="23" text-anchor="end">miR-129-2-3p</text>
<text transform="translate(1064.20 1201.80) rotate(-45) scale(0.7750 1)" font-size="23" text-anchor="end">miR-149-5p</text>
<text transform="translate(1131.80 1201.80) rotate(-45) scale(0.7750 1)" font-size="23" text-anchor="end">miR-212-3p</text>
<text transform="translate(1199.40 1201.80) rotate(-45) scale(0.7750 1)" font-size="23" text-anchor="end">miR-34b-3p</text>
<text transform="translate(1267.00 1201.80) rotate(-45) scale(0.7750 1)" font-size="23" text-anchor="end">miR-34c-5p</text>
<text transform="translate(1334.60 1201.80) rotate(-45) scale(0.7750 1)" font-size="23" text-anchor="end">miR-424-5p</text>
<text transform="translate(1402.20 1201.80) rotate(-45) scale(0.7750 1)" font-size="23" text-anchor="end">miR-503-3p</text>
<text transform="translate(1469.80 1201.80) rotate(-45) scale(0.7750 1)" font-size="23" text-anchor="end">miR-503-5p</text>
<text transform="translate(1537.40 1201.80) rotate(-45) scale(0.7750 1)" font-size="23" text-anchor="end">miR-10b-3p</text>
<text transform="translate(1605.00 1201.80) rotate(-45) scale(0.7750 1)" font-size="23" text-anchor="end">miR-125b-2-3p</text>
<text transform="translate(1672.60 1201.80) rotate(-45) scale(0.7750 1)" font-size="23" text-anchor="end">miR-199a-5p</text>
</g>
<g id="pD">
<path fill="#0000fe" d="M81.30 1786.50V1716.40Q81.30 1713.90 83.80 1713.90H110.30Q112.80 1713.90 112.80 1716.40V1786.50Z"/>
<path fill="#fe0000" d="M123.20 1786.50V1777.20Q123.20 1774.70 125.70 1774.70H151.90Q154.40 1774.70 154.40 1777.20V1786.50Z"/>
<path fill="#fe0000" d="M132.00 1771.00h13.60v3.00h-5.10V1775.70h-3.40V1774.00h-5.10Z"/>
<path fill="#800080" d="M165.00 1786.50V1650.60Q165.00 1648.10 167.50 1648.10H193.80Q196.30 1648.10 196.30 1650.60V1786.50Z"/>
<path fill="#800080" d="M173.85 1643.20h13.60v3.00h-5.10V1649.10h-3.40V1646.20h-5.10Z"/>
<path fill="#0000fe" d="M249.30 1786.50V1716.40Q249.30 1713.90 251.80 1713.90H277.80Q280.30 1713.90 280.30 1716.40V1786.50Z"/>
<path fill="#fe0000" d="M291.10 1786.50V1741.50Q291.10 1739.00 293.60 1739.00H319.70Q322.20 1739.00 322.20 1741.50V1786.50Z"/>
<path fill="#fe0000" d="M299.85 1730.60h13.60v3.00h-5.10V1740.00h-3.40V1733.60h-5.10Z"/>
<path fill="#800080" d="M333.00 1786.50V1583.10Q333.00 1580.60 335.50 1580.60H361.50Q364.00 1580.60 364.00 1583.10V1786.50Z"/>
<path fill="#800080" d="M341.70 1572.70h13.60v3.00h-5.10V1581.60h-3.40V1575.70h-5.10Z"/>
<line x1="75.90" y1="1500.00" x2="75.90" y2="1787.75" stroke="#000" stroke-width="2.5"/>
<line x1="71.00" y1="1786.50" x2="370.70" y2="1786.50" stroke="#000" stroke-width="2.5"/>
<text transform="translate(69.30 1793.50) scale(0.8000 1)" font-size="19.6" text-anchor="end">0</text>
<line x1="71.00" y1="1715.40" x2="75.90" y2="1715.40" stroke="#000" stroke-width="2.5"/>
<text transform="translate(69.30 1722.40) scale(0.8000 1)" font-size="19.6" text-anchor="end">1</text>
<line x1="71.00" y1="1644.10" x2="75.90" y2="1644.10" stroke="#000" stroke-width="2.5"/>
<text transform="translate(69.30 1651.10) scale(0.8000 1)" font-size="19.6" text-anchor="end">2</text>
<line x1="71.00" y1="1573.20" x2="75.90" y2="1573.20" stroke="#000" stroke-width="2.5"/>
<text transform="translate(69.30 1580.20) scale(0.8000 1)" font-size="19.6" text-anchor="end">3</text>
<line x1="71.00" y1="1501.30" x2="75.90" y2="1501.30" stroke="#000" stroke-width="2.5"/>
<text transform="translate(69.30 1508.30) scale(0.8000 1)" font-size="19.6" text-anchor="end">4</text>
<line x1="96.80" y1="1786.50" x2="96.80" y2="1794.70" stroke="#000" stroke-width="2.5"/>
<line x1="138.70" y1="1786.50" x2="138.70" y2="1794.70" stroke="#000" stroke-width="2.5"/>
<line x1="180.50" y1="1786.50" x2="180.50" y2="1794.70" stroke="#000" stroke-width="2.5"/>
<line x1="222.40" y1="1786.50" x2="222.40" y2="1794.70" stroke="#000" stroke-width="2.5"/>
<line x1="264.30" y1="1786.50" x2="264.30" y2="1794.70" stroke="#000" stroke-width="2.5"/>
<line x1="306.70" y1="1786.50" x2="306.70" y2="1794.70" stroke="#000" stroke-width="2.5"/>
<line x1="348.50" y1="1786.50" x2="348.50" y2="1794.70" stroke="#000" stroke-width="2.5"/>
<text transform="translate(44.30 1636.20) rotate(-90)" font-size="22.6" text-anchor="middle">Relative EGFR expression</text>
<text transform="translate(87.40 1462.40) scale(0.9932 1)" font-size="22.4">MDA-MB-231</text>
<text transform="translate(258.60 1462.40) scale(1.0012 1)" font-size="22.4">UACC812</text>
<path fill="none" stroke="#000" stroke-width="2.2" stroke-linejoin="round" d="M97.30 1674.50V1608.70H181.80V1624.40"/>
<path fill="none" stroke="#000" stroke-width="2.2" stroke-linejoin="round" d="M96.80 1707.00V1686.80H138.70V1760.70"/>
<path fill="none" stroke="#000" stroke-width="2.2" stroke-linejoin="round" d="M264.00 1668.30V1541.70H348.80V1560.40"/>
<path fill="none" stroke="#000" stroke-width="2.2" stroke-linejoin="round" d="M263.50 1700.30V1679.90H306.90V1723.70"/>
<text transform="translate(140.00 1610.30)" font-size="30" text-anchor="middle" dx="0.16" letter-spacing="0.33" style="font-weight:400" stroke="#000" stroke-width="0.25">***</text>
<text transform="translate(119.00 1687.40)" font-size="30" text-anchor="middle" dx="0.16" letter-spacing="0.33" style="font-weight:400" stroke="#000" stroke-width="0.25">***</text>
<text transform="translate(305.00 1543.70)" font-size="30" text-anchor="middle" dx="0.16" letter-spacing="0.33" style="font-weight:400" stroke="#000" stroke-width="0.25">***</text>
<text transform="translate(283.70 1680.80)" font-size="30" text-anchor="middle" dx="0.16" letter-spacing="0.33" style="font-weight:400" stroke="#000" stroke-width="0.25">*</text>
<text transform="translate(101.30 1809.50) rotate(-45)" font-size="22.4" text-anchor="end">NC</text>
<text transform="translate(143.20 1809.50) rotate(-45)" font-size="22.4" text-anchor="end">miR-503-5p mimic</text>
<text transform="translate(185.00 1809.50) rotate(-45)" font-size="22.4" text-anchor="end">miR-503-5p inhibitor</text>
<text transform="translate(268.80 1809.50) rotate(-45)" font-size="22.4" text-anchor="end">NC</text>
<text transform="translate(311.20 1809.50) rotate(-45)" font-size="22.4" text-anchor="end">miR-503-5p mimic</text>
<text transform="translate(353.00 1809.50) rotate(-45)" font-size="22.4" text-anchor="end">miR-503-5p inhibitor</text>
<path fill="#0000fe" d="M458.30 1787.80V1678.90Q458.30 1676.40 460.80 1676.40H485.90Q488.40 1676.40 488.40 1678.90V1787.80Z"/>
<path fill="#fe0000" d="M498.70 1787.80V1757.20Q498.70 1754.70 501.20 1754.70H526.00Q528.50 1754.70 528.50 1757.20V1787.80Z"/>
<path fill="#fe0000" d="M506.80 1754.00h13.60v3.00h-5.10V1755.70h-3.40V1757.00h-5.10Z"/>
<path fill="#800080" d="M539.40 1787.80V1559.90Q539.40 1557.40 541.90 1557.40H566.40Q568.90 1557.40 568.90 1559.90V1787.80Z"/>
<path fill="#800080" d="M547.35 1543.90h13.60v3.00h-5.10V1558.40h-3.40V1546.90h-5.10Z"/>
<path fill="#0000fe" d="M619.70 1787.80V1678.90Q619.70 1676.40 622.20 1676.40H647.20Q649.70 1676.40 649.70 1678.90V1787.80Z"/>
<path fill="#fe0000" d="M660.00 1787.80V1775.70Q660.00 1773.20 662.50 1773.20H687.40Q689.90 1773.20 689.90 1775.70V1787.80Z"/>
<path fill="#fe0000" d="M668.15 1771.20h13.60v3.00h-5.10V1774.20h-3.40V1774.20h-5.10Z"/>
<path fill="#800080" d="M700.20 1787.80V1556.70Q700.20 1554.20 702.70 1554.20H727.70Q730.20 1554.20 730.20 1556.70V1787.80Z"/>
<path fill="#800080" d="M708.40 1543.90h13.60v3.00h-5.10V1555.20h-3.40V1546.90h-5.10Z"/>
<line x1="453.90" y1="1511.70" x2="453.90" y2="1789.05" stroke="#000" stroke-width="2.5"/>
<line x1="447.70" y1="1787.80" x2="737.10" y2="1787.80" stroke="#000" stroke-width="2.5"/>
<text transform="translate(445.50 1794.80) scale(0.7200 1)" font-size="19.3" text-anchor="end">0.0</text>
<line x1="447.70" y1="1732.50" x2="453.90" y2="1732.50" stroke="#000" stroke-width="2.5"/>
<text transform="translate(445.50 1739.50) scale(0.7200 1)" font-size="19.3" text-anchor="end">0.5</text>
<line x1="447.70" y1="1677.60" x2="453.90" y2="1677.60" stroke="#000" stroke-width="2.5"/>
<text transform="translate(445.50 1684.60) scale(0.7200 1)" font-size="19.3" text-anchor="end">1.0</text>
<line x1="447.70" y1="1622.70" x2="453.90" y2="1622.70" stroke="#000" stroke-width="2.5"/>
<text transform="translate(445.50 1629.70) scale(0.7200 1)" font-size="19.3" text-anchor="end">1.5</text>
<line x1="447.70" y1="1568.00" x2="453.90" y2="1568.00" stroke="#000" stroke-width="2.5"/>
<text transform="translate(445.50 1575.00) scale(0.7200 1)" font-size="19.3" text-anchor="end">2.0</text>
<line x1="447.70" y1="1512.90" x2="453.90" y2="1512.90" stroke="#000" stroke-width="2.5"/>
<text transform="translate(445.50 1519.90) scale(0.7200 1)" font-size="19.3" text-anchor="end">2.5</text>
<line x1="473.10" y1="1787.80" x2="473.10" y2="1795.30" stroke="#000" stroke-width="2.5"/>
<line x1="513.70" y1="1787.80" x2="513.70" y2="1795.30" stroke="#000" stroke-width="2.5"/>
<line x1="553.90" y1="1787.80" x2="553.90" y2="1795.30" stroke="#000" stroke-width="2.5"/>
<line x1="594.30" y1="1787.80" x2="594.30" y2="1795.30" stroke="#000" stroke-width="2.5"/>
<line x1="634.40" y1="1787.80" x2="634.40" y2="1795.30" stroke="#000" stroke-width="2.5"/>
<line x1="674.80" y1="1787.80" x2="674.80" y2="1795.30" stroke="#000" stroke-width="2.5"/>
<line x1="715.00" y1="1787.80" x2="715.00" y2="1795.30" stroke="#000" stroke-width="2.5"/>
<text transform="translate(411.00 1642.00) rotate(-90)" font-size="22.5" text-anchor="middle">Relative TINCR expression</text>
<text transform="translate(454.40 1462.40) scale(0.9917 1)" font-size="22.4">MDA-MB-231</text>
<text transform="translate(622.60 1462.40) scale(0.9894 1)" font-size="22.4">UACC812</text>
<path fill="none" stroke="#000" stroke-width="2.2" stroke-linejoin="round" d="M473.10 1629.40V1511.60H554.90V1537.70"/>
<path fill="none" stroke="#000" stroke-width="2.2" stroke-linejoin="round" d="M473.10 1659.90V1640.30H513.70V1745.80"/>
<path fill="none" stroke="#000" stroke-width="2.2" stroke-linejoin="round" d="M633.70 1636.70V1514.10H716.20V1537.70"/>
<path fill="none" stroke="#000" stroke-width="2.2" stroke-linejoin="round" d="M633.70 1667.00V1648.10H675.60V1765.50"/>
<text transform="translate(516.70 1514.20)" font-size="30" text-anchor="middle" dx="0.16" letter-spacing="0.33" style="font-weight:400" stroke="#000" stroke-width="0.25">**</text>
<text transform="translate(672.40 1516.20)" font-size="30" text-anchor="middle" dx="0.16" letter-spacing="0.33" style="font-weight:400" stroke="#000" stroke-width="0.25">**</text>
<text transform="translate(494.50 1640.70)" font-size="30" text-anchor="middle" dx="0.16" letter-spacing="0.33" style="font-weight:400" stroke="#000" stroke-width="0.25">***</text>
<text transform="translate(656.60 1648.60)" font-size="30" text-anchor="middle" dx="0.16" letter-spacing="0.33" style="font-weight:400" stroke="#000" stroke-width="0.25">***</text>
<text transform="translate(477.60 1806.00) rotate(-45)" font-size="22.4" text-anchor="end">NC</text>
<text transform="translate(518.20 1806.00) rotate(-45)" font-size="22.4" text-anchor="end">miR-503-5p mimic</text>
<text transform="translate(558.40 1806.00) rotate(-45)" font-size="22.4" text-anchor="end">miR-503-5p inhibitor</text>
<text transform="translate(638.90 1806.00) rotate(-45)" font-size="22.4" text-anchor="end">NC</text>
<text transform="translate(679.30 1806.00) rotate(-45)" font-size="22.4" text-anchor="end">miR-503-5p mimic</text>
<text transform="translate(719.50 1806.00) rotate(-45)" font-size="22.4" text-anchor="end">miR-503-5p inhibitor</text>
<text transform="translate(66.00 1373.00)" font-size="38">D</text>
</g>
<g id="pE">
<defs><filter id="bl1_2" x="-30%" y="-60%" width="160%" height="220%"><feGaussianBlur stdDeviation="1.2"/></filter><filter id="bl2" x="-30%" y="-60%" width="160%" height="220%"><feGaussianBlur stdDeviation="2"/></filter><filter id="bl3" x="-30%" y="-60%" width="160%" height="220%"><feGaussianBlur stdDeviation="3"/></filter><filter id="bl4_5" x="-30%" y="-60%" width="160%" height="220%"><feGaussianBlur stdDeviation="4.5"/></filter><clipPath id="ec1"><rect x="982.3" y="1492.5" width="203.0" height="70.0"/></clipPath><linearGradient id="eg12" x1="0" y1="0" x2="0" y2="1"><stop offset="0" stop-color="#adadad"/><stop offset="0.6" stop-color="#bcbcbc"/><stop offset="1" stop-color="#d0d0d0"/></linearGradient><clipPath id="ec2"><rect x="1194.5" y="1492.5" width="203.5" height="70.0"/></clipPath><clipPath id="ec3"><rect x="1404.0" y="1492.5" width="279.8" height="72.5"/></clipPath><linearGradient id="eg21" x1="0" y1="0" x2="1" y2="0"><stop offset="0" stop-color="#40383c"/><stop offset="0.12" stop-color="#5a5256"/><stop offset="0.42" stop-color="#857e81"/><stop offset="0.5" stop-color="#c5c1bf"/><stop offset="0.56" stop-color="#cbc7c5"/><stop offset="0.62" stop-color="#b5afb1"/><stop offset="0.88" stop-color="#bdb8b8"/><stop offset="1" stop-color="#d6d3d0"/></linearGradient><clipPath id="ec4"><rect x="982.3" y="1586.5" width="203.0" height="59.8"/></clipPath><linearGradient id="eg22" x1="0" y1="0" x2="0" y2="1"><stop offset="0" stop-color="#aaaaaa"/><stop offset="0.5" stop-color="#9a9a9a"/><stop offset="1" stop-color="#8a8a8a"/></linearGradient><clipPath id="ec5"><rect x="1194.5" y="1586.5" width="203.5" height="59.8"/></clipPath><linearGradient id="eg23" x1="0" y1="0" x2="0" y2="1"><stop offset="0" stop-color="#8d878b"/><stop offset="0.3" stop-color="#7a7478"/><stop offset="0.6" stop-color="#5e585c"/><stop offset="1" stop-color="#6a6468"/></linearGradient><clipPath id="ec6"><rect x="1404.0" y="1586.5" width="279.8" height="59.8"/></clipPath><clipPath id="ec7"><rect x="982.3" y="1671.0" width="203.0" height="65.0"/></clipPath><clipPath id="ec8"><rect x="1194.5" y="1671.0" width="203.5" height="65.0"/></clipPath><clipPath id="ec9"><rect x="1404.0" y="1671.0" width="279.8" height="65.0"/></clipPath><clipPath id="ec10"><rect x="982.3" y="1745.3" width="203.0" height="66.9"/></clipPath><clipPath id="ec11"><rect x="1194.5" y="1745.3" width="203.5" height="66.9"/></clipPath><linearGradient id="eg43" x1="0" y1="0" x2="0" y2="1"><stop offset="0" stop-color="#7c7879"/><stop offset="1" stop-color="#959192"/></linearGradient><clipPath id="ec12"><rect x="1404.0" y="1745.3" width="279.8" height="66.9"/></clipPath><linearGradient id="eg51" x1="0" y1="0" x2="1" y2="0"><stop offset="0" stop-color="#4a4548"/><stop offset="0.12" stop-color="#67626a"/><stop offset="0.45" stop-color="#a7a3a4"/><stop offset="0.75" stop-color="#dad8d7"/><stop offset="1" stop-color="#eeeeee"/></linearGradient><clipPath id="ec13"><rect x="982.3" y="1834.2" width="203.0" height="63.4"/></clipPath><clipPath id="ec14"><rect x="1194.5" y="1834.2" width="203.5" height="65.4"/></clipPath><clipPath id="ec15"><rect x="1404.0" y="1834.2" width="279.8" height="65.4"/></clipPath><clipPath id="ec16"><rect x="983.0" y="1919.4" width="203.4" height="53.9"/></clipPath><clipPath id="ec17"><rect x="1194.5" y="1919.4" width="203.5" height="53.9"/></clipPath><clipPath id="ec18"><rect x="1404.0" y="1919.4" width="279.8" height="53.9"/></clipPath></defs>
<g clip-path="url(#ec1)">
<rect x="982.30" y="1492.50" width="203.00" height="70.00" fill="#dddbd7"/>
<rect x="1000.00" y="1508.00" width="69.00" height="62.00" fill="#a39e9f" rx="5.0" filter="url(#bl3)" opacity="0.6"/>
<rect x="1098.00" y="1508.00" width="67.00" height="62.00" fill="#aca7a8" rx="5.0" filter="url(#bl3)" opacity="0.55"/>
<rect x="1001.00" y="1538.00" width="67.00" height="12.00" fill="#8a8086" rx="5.0" filter="url(#bl3)" opacity="0.45"/>
<rect x="1001.00" y="1510.00" width="67.00" height="12.00" fill="#8a8086" rx="5.0" filter="url(#bl3)" opacity="0.3"/>
<rect x="1000.00" y="1520.00" width="69.00" height="18.00" fill="#1a1418" rx="5.0" filter="url(#bl3)"/>
<rect x="1010.00" y="1524.00" width="50.00" height="11.00" fill="#0c080b" rx="5.0" filter="url(#bl3)" opacity="0.8"/>
<rect x="1098.00" y="1518.00" width="66.00" height="19.00" fill="#5a4f56" rx="5.0" filter="url(#bl3)" opacity="0.95"/>
<rect x="1100.00" y="1520.00" width="20.00" height="15.00" fill="#4a3f46" rx="5.0" filter="url(#bl3)" opacity="0.5"/>
<rect x="1145.00" y="1520.00" width="18.00" height="15.00" fill="#4a3f46" rx="5.0" filter="url(#bl3)" opacity="0.5"/>
</g>
<rect x="982.3" y="1492.5" width="203.0" height="70.0" fill="none" stroke="#111" stroke-width="2.8"/>
<g clip-path="url(#ec2)">
<rect x="1194.50" y="1492.50" width="203.50" height="70.00" fill="url(#eg12)"/>
<rect x="1283.00" y="1480.00" width="19.00" height="100.00" fill="#d2d2d2" rx="5.0" filter="url(#bl3)" opacity="0.9"/>
<rect x="1206.00" y="1506.00" width="74.00" height="30.00" fill="#7c7c7c" rx="5.0" filter="url(#bl4_5)" opacity="0.8"/>
<rect x="1204.00" y="1529.00" width="77.00" height="24.00" fill="#0c080b" rx="5.0" filter="url(#bl3)"/>
<rect x="1208.00" y="1534.00" width="69.00" height="15.00" fill="#0c080b" rx="5.0" filter="url(#bl2)"/>
<rect x="1304.00" y="1496.00" width="82.00" height="14.00" fill="#1c1c1c" rx="5.0" filter="url(#bl3)" opacity="0.95"/>
<rect x="1304.00" y="1496.00" width="16.00" height="34.00" fill="#0c080b" rx="5.0" filter="url(#bl3)" opacity="0.9"/>
<rect x="1370.00" y="1496.00" width="17.00" height="34.00" fill="#0c080b" rx="5.0" filter="url(#bl3)" opacity="0.9"/>
<rect x="1318.00" y="1506.00" width="54.00" height="14.00" fill="#3a3a3a" rx="5.0" filter="url(#bl3)" opacity="0.8"/>
<rect x="1302.00" y="1514.00" width="86.00" height="31.00" fill="#0c080b" rx="5.0" filter="url(#bl3)"/>
<rect x="1306.00" y="1518.00" width="78.00" height="22.00" fill="#0c080b" rx="5.0" filter="url(#bl2)"/>
<rect x="1304.00" y="1545.00" width="82.00" height="20.00" fill="#8a8a8a" rx="5.0" filter="url(#bl4_5)" opacity="0.6"/>
</g>
<rect x="1194.5" y="1492.5" width="203.5" height="70.0" fill="none" stroke="#111" stroke-width="2.8"/>
<g clip-path="url(#ec3)">
<rect x="1404.00" y="1492.50" width="279.80" height="72.50" fill="#e4e4e4"/>
<rect x="1413.00" y="1498.00" width="75.00" height="58.00" fill="#a0a0a0" rx="5.0" filter="url(#bl4_5)" opacity="0.8"/>
<rect x="1507.00" y="1500.00" width="73.00" height="52.00" fill="#b0b0b0" rx="5.0" filter="url(#bl4_5)" opacity="0.8"/>
<rect x="1600.00" y="1498.00" width="77.00" height="58.00" fill="#8e8e8e" rx="5.0" filter="url(#bl4_5)" opacity="0.8"/>
<rect x="1414.00" y="1505.00" width="73.00" height="16.00" fill="#1c171a" rx="5.0" filter="url(#bl3)"/>
<rect x="1414.00" y="1530.00" width="73.00" height="17.00" fill="#0c080b" rx="5.0" filter="url(#bl3)"/>
<rect x="1414.00" y="1508.00" width="16.00" height="36.00" fill="#0c080b" rx="5.0" filter="url(#bl3)" opacity="0.5"/>
<rect x="1472.00" y="1508.00" width="15.00" height="36.00" fill="#0c080b" rx="5.0" filter="url(#bl3)" opacity="0.5"/>
<rect x="1508.00" y="1507.00" width="71.00" height="13.00" fill="#262224" rx="5.0" filter="url(#bl3)"/>
<rect x="1508.00" y="1531.00" width="71.00" height="14.00" fill="#1e1a1c" rx="5.0" filter="url(#bl3)"/>
<rect x="1508.00" y="1510.00" width="12.00" height="32.00" fill="#1e1a1c" rx="5.0" filter="url(#bl3)" opacity="0.35"/>
<rect x="1567.00" y="1510.00" width="12.00" height="32.00" fill="#1e1a1c" rx="5.0" filter="url(#bl3)" opacity="0.35"/>
<rect x="1530.00" y="1500.00" width="28.00" height="50.00" fill="#d0d0d0" rx="5.0" filter="url(#bl4_5)" opacity="0.45"/>
<rect x="1601.00" y="1503.00" width="75.00" height="19.00" fill="#0c080b" rx="5.0" filter="url(#bl3)"/>
<rect x="1601.00" y="1529.00" width="75.00" height="19.00" fill="#0c080b" rx="5.0" filter="url(#bl3)"/>
<rect x="1601.00" y="1508.00" width="17.00" height="36.00" fill="#0c080b" rx="5.0" filter="url(#bl3)" opacity="0.55"/>
<rect x="1660.00" y="1508.00" width="16.00" height="36.00" fill="#0c080b" rx="5.0" filter="url(#bl3)" opacity="0.55"/>
<rect x="1628.00" y="1505.00" width="22.00" height="15.00" fill="#888" rx="5.0" filter="url(#bl3)" opacity="0.35"/>
</g>
<rect x="1404.0" y="1492.5" width="279.8" height="72.5" fill="none" stroke="#111" stroke-width="2.8"/>
<g clip-path="url(#ec4)">
<rect x="982.30" y="1586.50" width="203.00" height="59.80" fill="url(#eg21)"/>
<rect x="985.00" y="1588.00" width="95.00" height="24.00" fill="#3a3136" rx="5.0" filter="url(#bl4_5)" opacity="0.5"/>
<rect x="997.00" y="1588.00" width="70.00" height="34.00" fill="#120d10" rx="5.0" filter="url(#bl4_5)"/>
<rect x="1000.00" y="1596.00" width="64.00" height="22.00" fill="#0c080b" rx="5.0" filter="url(#bl3)"/>
<rect x="1094.00" y="1604.00" width="72.00" height="15.00" fill="#4d4449" rx="5.0" filter="url(#bl3)" opacity="0.9"/>
<rect x="1152.00" y="1601.00" width="15.00" height="20.00" fill="#3a3036" rx="5.0" filter="url(#bl3)" opacity="0.7"/>
<rect x="1085.00" y="1586.00" width="100.00" height="14.00" fill="#d8d5d2" rx="5.0" filter="url(#bl4_5)" opacity="0.5"/>
</g>
<rect x="982.3" y="1586.5" width="203.0" height="59.8" fill="none" stroke="#111" stroke-width="2.8"/>
<g clip-path="url(#ec5)">
<rect x="1194.50" y="1586.50" width="203.50" height="59.80" fill="url(#eg22)"/>
<rect x="1283.00" y="1570.00" width="20.00" height="90.00" fill="#bcbcbc" rx="5.0" filter="url(#bl3)" opacity="0.85"/>
<rect x="1207.00" y="1602.00" width="75.00" height="28.00" fill="#5a5a5a" rx="5.0" filter="url(#bl4_5)" opacity="0.5"/>
<rect x="1305.00" y="1598.00" width="79.00" height="32.00" fill="#4a4a4a" rx="5.0" filter="url(#bl4_5)" opacity="0.55"/>
<rect x="1209.00" y="1612.00" width="71.00" height="9.00" fill="#444" rx="4.5" filter="url(#bl3)" opacity="0.85"/>
<rect x="1306.00" y="1607.00" width="76.00" height="15.00" fill="#1c1c1c" rx="5.0" filter="url(#bl3)"/>
<rect x="1360.00" y="1604.00" width="24.00" height="20.00" fill="#1c1c1c" rx="5.0" filter="url(#bl3)" opacity="0.6"/>
</g>
<rect x="1194.5" y="1586.5" width="203.5" height="59.8" fill="none" stroke="#111" stroke-width="2.8"/>
<g clip-path="url(#ec6)">
<rect x="1404.00" y="1586.50" width="279.80" height="59.80" fill="url(#eg23)"/>
<rect x="1484.50" y="1570.00" width="21.50" height="90.00" fill="#ececec" rx="5.0" filter="url(#bl2)"/>
<rect x="1576.00" y="1570.00" width="20.50" height="90.00" fill="#e6e6e6" rx="5.0" filter="url(#bl2)"/>
<rect x="1671.00" y="1570.00" width="19.00" height="90.00" fill="#d8d8d8" rx="5.0" filter="url(#bl2)"/>
<rect x="1404.00" y="1605.00" width="79.00" height="17.00" fill="#0c080b" rx="5.0" filter="url(#bl3)"/>
<rect x="1407.00" y="1608.00" width="73.00" height="11.00" fill="#0c080b" rx="5.0" filter="url(#bl2)"/>
<rect x="1404.00" y="1590.00" width="8.00" height="50.00" fill="#0c080b" rx="4.0" filter="url(#bl3)" opacity="0.8"/>
<rect x="1507.00" y="1604.00" width="67.00" height="17.00" fill="#2a2428" rx="5.0" filter="url(#bl3)"/>
<rect x="1506.00" y="1603.00" width="28.00" height="21.00" fill="#0c080b" rx="5.0" filter="url(#bl3)"/>
<rect x="1517.00" y="1622.00" width="10.00" height="10.00" fill="#0c080b" rx="5.0" filter="url(#bl2)"/>
<rect x="1597.00" y="1599.00" width="74.00" height="21.00" fill="#0c080b" rx="5.0" filter="url(#bl3)"/>
<rect x="1600.00" y="1602.00" width="68.00" height="15.00" fill="#0c080b" rx="5.0" filter="url(#bl2)"/>
</g>
<rect x="1404.0" y="1586.5" width="279.8" height="59.8" fill="none" stroke="#111" stroke-width="2.8"/>
<g clip-path="url(#ec7)">
<rect x="982.30" y="1671.00" width="203.00" height="65.00" fill="#cbc7c5"/>
<rect x="992.00" y="1679.00" width="100.00" height="50.00" fill="#0c080b" rx="22.0" filter="url(#bl3)"/>
<rect x="1090.00" y="1679.00" width="97.00" height="49.00" fill="#0c080b" rx="22.0" filter="url(#bl3)"/>
<rect x="998.00" y="1686.00" width="182.00" height="36.00" fill="#0c080b" rx="18.0" filter="url(#bl2)"/>
<rect x="982.00" y="1690.00" width="18.00" height="30.00" fill="#6a6266" rx="9.0" filter="url(#bl4_5)" opacity="0.6"/>
</g>
<rect x="982.3" y="1671.0" width="203.0" height="65.0" fill="none" stroke="#111" stroke-width="2.8"/>
<g clip-path="url(#ec8)">
<rect x="1194.50" y="1671.00" width="203.50" height="65.00" fill="#b7b2b0"/>
<rect x="1201.00" y="1685.00" width="90.00" height="31.00" fill="#0c080b" rx="15.5" filter="url(#bl2)"/>
<rect x="1294.00" y="1683.00" width="99.00" height="31.00" fill="#0c080b" rx="15.5" filter="url(#bl2)"/>
<rect x="1206.00" y="1690.00" width="80.00" height="22.00" fill="#0c080b" rx="11.0" filter="url(#bl1_2)"/>
<rect x="1300.00" y="1688.00" width="88.00" height="22.00" fill="#0c080b" rx="11.0" filter="url(#bl1_2)"/>
</g>
<rect x="1194.5" y="1671.0" width="203.5" height="65.0" fill="none" stroke="#111" stroke-width="2.8"/>
<g clip-path="url(#ec9)">
<rect x="1404.00" y="1671.00" width="279.80" height="65.00" fill="#bdb9b7"/>
<rect x="1412.00" y="1686.00" width="86.00" height="36.00" fill="#0c080b" rx="18.0" filter="url(#bl3)"/>
<rect x="1508.00" y="1685.00" width="80.00" height="35.00" fill="#0c080b" rx="17.5" filter="url(#bl3)"/>
<rect x="1599.00" y="1686.00" width="81.00" height="36.00" fill="#0c080b" rx="18.0" filter="url(#bl3)"/>
<rect x="1417.00" y="1691.00" width="76.00" height="26.00" fill="#0c080b" rx="13.0" filter="url(#bl2)"/>
<rect x="1513.00" y="1690.00" width="70.00" height="25.00" fill="#0c080b" rx="12.5" filter="url(#bl2)"/>
<rect x="1604.00" y="1691.00" width="71.00" height="26.00" fill="#0c080b" rx="13.0" filter="url(#bl2)"/>
</g>
<rect x="1404.0" y="1671.0" width="279.8" height="65.0" fill="none" stroke="#111" stroke-width="2.8"/>
<g clip-path="url(#ec10)">
<rect x="982.30" y="1745.30" width="203.00" height="66.90" fill="#d9d7d4"/>
<rect x="994.00" y="1762.00" width="79.00" height="20.00" fill="#0c080b" rx="5.0" filter="url(#bl2)"/>
<rect x="996.00" y="1765.00" width="75.00" height="14.00" fill="#0c080b" rx="5.0" filter="url(#bl1_2)"/>
<rect x="995.00" y="1783.00" width="77.00" height="9.00" fill="#1c171a" rx="4.5" filter="url(#bl2)"/>
<rect x="996.00" y="1776.00" width="75.00" height="12.00" fill="#3a3438" rx="5.0" filter="url(#bl2)" opacity="0.7"/>
<rect x="1094.00" y="1764.00" width="73.00" height="12.00" fill="#1c171a" rx="5.0" filter="url(#bl2)"/>
<rect x="1095.00" y="1781.00" width="71.00" height="8.00" fill="#2a2428" rx="4.0" filter="url(#bl2)"/>
<rect x="1094.00" y="1770.00" width="73.00" height="16.00" fill="#5a5256" rx="5.0" filter="url(#bl3)" opacity="0.75"/>
</g>
<rect x="982.3" y="1745.3" width="203.0" height="66.9" fill="none" stroke="#111" stroke-width="2.8"/>
<g clip-path="url(#ec11)">
<rect x="1194.50" y="1745.30" width="203.50" height="66.90" fill="#bebebe"/>
<rect x="1283.00" y="1730.00" width="20.00" height="100.00" fill="#d0d0d0" rx="5.0" filter="url(#bl3)" opacity="0.9"/>
<rect x="1204.00" y="1764.00" width="78.00" height="32.00" fill="#565656" rx="5.0" filter="url(#bl3)"/>
<rect x="1205.00" y="1781.00" width="76.00" height="14.00" fill="#2a2a2a" rx="5.0" filter="url(#bl3)"/>
<rect x="1305.00" y="1764.00" width="89.00" height="33.00" fill="#0c080b" rx="5.0" filter="url(#bl3)"/>
<rect x="1309.00" y="1769.00" width="81.00" height="23.00" fill="#0c080b" rx="5.0" filter="url(#bl2)"/>
</g>
<rect x="1194.5" y="1745.3" width="203.5" height="66.9" fill="none" stroke="#111" stroke-width="2.8"/>
<g clip-path="url(#ec12)">
<rect x="1404.00" y="1745.30" width="279.80" height="66.90" fill="url(#eg43)"/>
<rect x="1404.00" y="1740.00" width="16.00" height="80.00" fill="#a8a4a5" rx="5.0" filter="url(#bl4_5)" opacity="0.6"/>
<rect x="1422.00" y="1760.00" width="70.00" height="38.00" fill="#3a3438" rx="5.0" filter="url(#bl3)" opacity="0.6"/>
<rect x="1602.00" y="1759.00" width="72.00" height="39.00" fill="#2a2428" rx="5.0" filter="url(#bl3)" opacity="0.65"/>
<rect x="1512.00" y="1764.00" width="70.00" height="32.00" fill="#4a4448" rx="5.0" filter="url(#bl3)" opacity="0.4"/>
<rect x="1422.00" y="1761.00" width="70.00" height="12.00" fill="#2e282c" rx="5.0" filter="url(#bl3)"/>
<rect x="1421.00" y="1782.00" width="72.00" height="16.00" fill="#1c171a" rx="5.0" filter="url(#bl3)"/>
<rect x="1424.00" y="1785.00" width="66.00" height="10.00" fill="#0c080b" rx="5.0" filter="url(#bl2)"/>
<rect x="1512.00" y="1763.00" width="70.00" height="9.00" fill="#5a5458" rx="4.5" filter="url(#bl3)" opacity="0.7"/>
<rect x="1511.00" y="1785.00" width="72.00" height="13.00" fill="#201a1e" rx="5.0" filter="url(#bl3)"/>
<rect x="1601.00" y="1760.00" width="73.00" height="13.00" fill="#1c161a" rx="5.0" filter="url(#bl3)"/>
<rect x="1600.00" y="1781.00" width="75.00" height="16.00" fill="#0c080b" rx="5.0" filter="url(#bl3)"/>
<rect x="1604.00" y="1784.00" width="68.00" height="10.00" fill="#0c080b" rx="5.0" filter="url(#bl2)"/>
</g>
<rect x="1404.0" y="1745.3" width="279.8" height="66.9" fill="none" stroke="#111" stroke-width="2.8"/>
<g clip-path="url(#ec13)">
<rect x="982.30" y="1834.20" width="203.00" height="63.40" fill="url(#eg51)"/>
<rect x="982.00" y="1870.00" width="118.00" height="30.00" fill="#5a5558" rx="5.0" filter="url(#bl4_5)" opacity="0.45"/>
<rect x="1006.00" y="1858.00" width="68.00" height="17.00" fill="#39343a" rx="5.0" filter="url(#bl4_5)" opacity="0.85"/>
<rect x="1098.00" y="1866.00" width="76.00" height="9.00" fill="#8d888b" rx="4.5" filter="url(#bl3)" opacity="0.8"/>
</g>
<rect x="982.3" y="1834.2" width="203.0" height="63.4" fill="none" stroke="#111" stroke-width="2.8"/>
<g clip-path="url(#ec14)">
<rect x="1194.50" y="1834.20" width="203.50" height="65.40" fill="#d1d1d1"/>
<rect x="1206.00" y="1852.00" width="78.00" height="32.00" fill="#5a5a5a" rx="5.0" filter="url(#bl4_5)" opacity="0.75"/>
<rect x="1206.00" y="1857.00" width="77.00" height="16.00" fill="#1c171a" rx="5.0" filter="url(#bl3)"/>
<rect x="1205.00" y="1853.00" width="17.00" height="27.00" fill="#0c080b" rx="5.0" filter="url(#bl3)"/>
<rect x="1308.00" y="1848.00" width="80.00" height="28.00" fill="#5a5a5a" rx="5.0" filter="url(#bl4_5)" opacity="0.65"/>
<rect x="1308.00" y="1851.00" width="80.00" height="17.00" fill="#0c080b" rx="5.0" filter="url(#bl3)"/>
</g>
<rect x="1194.5" y="1834.2" width="203.5" height="65.4" fill="none" stroke="#111" stroke-width="2.8"/>
<g clip-path="url(#ec15)">
<rect x="1404.00" y="1834.20" width="279.80" height="65.40" fill="#cbcbcb"/>
<rect x="1414.00" y="1852.00" width="69.00" height="30.00" fill="#6a6a6a" rx="5.0" filter="url(#bl4_5)" opacity="0.75"/>
<rect x="1415.00" y="1858.00" width="67.00" height="16.00" fill="#0c080b" rx="5.0" filter="url(#bl3)"/>
<rect x="1503.00" y="1852.00" width="69.00" height="28.00" fill="#7a7a7a" rx="5.0" filter="url(#bl4_5)" opacity="0.75"/>
<rect x="1504.00" y="1859.00" width="67.00" height="14.00" fill="#2c2c2c" rx="5.0" filter="url(#bl3)"/>
<rect x="1596.00" y="1858.00" width="78.00" height="24.00" fill="#7a7a7a" rx="5.0" filter="url(#bl4_5)" opacity="0.65"/>
<rect x="1596.00" y="1862.00" width="77.00" height="13.00" fill="#0c080b" rx="5.0" filter="url(#bl3)"/>
<rect x="1655.00" y="1858.00" width="20.00" height="19.00" fill="#0c080b" rx="5.0" filter="url(#bl3)" opacity="0.8"/>
</g>
<rect x="1404.0" y="1834.2" width="279.8" height="65.4" fill="none" stroke="#111" stroke-width="2.8"/>
<g clip-path="url(#ec16)">
<rect x="983.00" y="1919.40" width="203.40" height="53.90" fill="#cbc9c7"/>
<rect x="985.00" y="1935.00" width="94.00" height="23.00" fill="#0c080b" rx="11.5" filter="url(#bl2)"/>
<rect x="1080.00" y="1935.00" width="105.00" height="23.00" fill="#0c080b" rx="11.5" filter="url(#bl2)"/>
<rect x="990.00" y="1939.00" width="190.00" height="15.00" fill="#0c080b" rx="7.5" filter="url(#bl1_2)"/>
</g>
<rect x="983.0" y="1919.4" width="203.4" height="53.9" fill="none" stroke="#111" stroke-width="2.8"/>
<g clip-path="url(#ec17)">
<rect x="1194.50" y="1919.40" width="203.50" height="53.90" fill="#b2b2b2"/>
<rect x="1200.00" y="1933.00" width="118.00" height="27.00" fill="#0c080b" rx="13.5" filter="url(#bl3)"/>
<rect x="1300.00" y="1927.00" width="94.00" height="28.00" fill="#0c080b" rx="14.0" filter="url(#bl3)"/>
<rect x="1340.00" y="1936.00" width="54.00" height="26.00" fill="#0c080b" rx="13.0" filter="url(#bl3)"/>
<rect x="1210.00" y="1938.00" width="180.00" height="16.00" fill="#0c080b" rx="8.0" filter="url(#bl2)"/>
</g>
<rect x="1194.5" y="1919.4" width="203.5" height="53.9" fill="none" stroke="#111" stroke-width="2.8"/>
<g clip-path="url(#ec18)">
<rect x="1404.00" y="1919.40" width="279.80" height="53.90" fill="#b9b9b9"/>
<rect x="1404.00" y="1934.00" width="84.00" height="28.00" fill="#0c080b" rx="14.0" filter="url(#bl3)"/>
<rect x="1406.00" y="1944.00" width="56.00" height="23.00" fill="#0c080b" rx="11.5" filter="url(#bl3)"/>
<rect x="1486.00" y="1928.00" width="94.00" height="25.00" fill="#0c080b" rx="12.5" filter="url(#bl3)"/>
<rect x="1579.00" y="1929.00" width="107.00" height="24.00" fill="#0c080b" rx="12.0" filter="url(#bl3)"/>
<rect x="1410.00" y="1936.00" width="270.00" height="14.00" fill="#0c080b" rx="7.0" filter="url(#bl2)"/>
</g>
<rect x="1404.0" y="1919.4" width="279.8" height="53.9" fill="none" stroke="#111" stroke-width="2.8"/>
<text transform="translate(786.50 1372.50)" font-size="37">E</text>
<text transform="translate(986.30 1386.20) scale(0.9749 1)" font-size="22.3" text-anchor="end">NC</text>
<text transform="translate(986.30 1419.40)" font-size="22.3" text-anchor="end">Si TINCR</text>
<text transform="translate(986.30 1449.90) scale(1.0112 1)" font-size="22.3" text-anchor="end">miR-503-5p mimic</text>
<text transform="translate(986.30 1476.40) scale(1.0140 1)" font-size="22.3" text-anchor="end">miR-503-5p inhibitor</text>
<path d="M1017.4 1379.3h13M1023.9 1372.8v13" stroke="#111" stroke-width="3.2" fill="none"/>
<path d="M1122.0 1379.3h15" stroke="#111" stroke-width="2.6" fill="none"/>
<path d="M1233.2 1379.3h13M1239.7 1372.8v13" stroke="#111" stroke-width="3.2" fill="none"/>
<path d="M1338.3 1379.3h15" stroke="#111" stroke-width="2.6" fill="none"/>
<path d="M1441.4 1379.3h13M1447.9 1372.8v13" stroke="#111" stroke-width="3.2" fill="none"/>
<path d="M1535.6 1379.3h15" stroke="#111" stroke-width="2.6" fill="none"/>
<path d="M1633.4 1379.3h15" stroke="#111" stroke-width="2.6" fill="none"/>
<path d="M1016.4 1413.2h15" stroke="#111" stroke-width="2.6" fill="none"/>
<path d="M1122.0 1413.2h15" stroke="#111" stroke-width="2.6" fill="none"/>
<path d="M1232.2 1413.2h15" stroke="#111" stroke-width="2.6" fill="none"/>
<path d="M1338.3 1413.2h15" stroke="#111" stroke-width="2.6" fill="none"/>
<path d="M1440.4 1413.2h15" stroke="#111" stroke-width="2.6" fill="none"/>
<path d="M1536.6 1413.2h13M1543.1 1406.7v13" stroke="#111" stroke-width="3.2" fill="none"/>
<path d="M1634.4 1413.2h13M1640.9 1406.7v13" stroke="#111" stroke-width="3.2" fill="none"/>
<path d="M1016.4 1442.8h15" stroke="#111" stroke-width="2.6" fill="none"/>
<path d="M1123.0 1442.8h13M1129.5 1436.3v13" stroke="#111" stroke-width="3.2" fill="none"/>
<path d="M1232.2 1442.8h15" stroke="#111" stroke-width="2.6" fill="none"/>
<path d="M1338.3 1442.8h15" stroke="#111" stroke-width="2.6" fill="none"/>
<path d="M1440.4 1442.8h15" stroke="#111" stroke-width="2.6" fill="none"/>
<path d="M1535.6 1442.8h15" stroke="#111" stroke-width="2.6" fill="none"/>
<path d="M1633.4 1442.8h15" stroke="#111" stroke-width="2.6" fill="none"/>
<path d="M1016.4 1471.4h15" stroke="#111" stroke-width="2.6" fill="none"/>
<path d="M1122.0 1471.4h15" stroke="#111" stroke-width="2.6" fill="none"/>
<path d="M1232.2 1471.4h15" stroke="#111" stroke-width="2.6" fill="none"/>
<path d="M1339.3 1471.4h13M1345.8 1464.9v13" stroke="#111" stroke-width="3.2" fill="none"/>
<path d="M1440.4 1471.4h15" stroke="#111" stroke-width="2.6" fill="none"/>
<path d="M1535.6 1471.4h15" stroke="#111" stroke-width="2.6" fill="none"/>
<path d="M1634.4 1471.4h13M1640.9 1464.9v13" stroke="#111" stroke-width="3.2" fill="none"/>
<text transform="translate(885.00 1539.50)" font-size="22.7" fill="#111">p-EGFR</text>
<text transform="translate(885.00 1621.50)" font-size="22.7" fill="#111">EGFR</text>
<text transform="translate(885.00 1708.40)" font-size="22.7" fill="#111">GAPDH</text>
<text transform="translate(885.00 1787.80)" font-size="22.7" fill="#111">p-EGFR</text>
<text transform="translate(885.00 1877.20)" font-size="22.7" fill="#111">EGFR</text>
<text transform="translate(885.00 1953.50)" font-size="22.7" fill="#111">GAPDH</text>
<text transform="translate(1690.50 1537.70)" font-size="22.5" fill="#111">170kDa</text>
<text transform="translate(1690.50 1620.20)" font-size="22.5" fill="#111">170kDa</text>
<text transform="translate(1690.50 1712.70)" font-size="22.5" fill="#111">38kDa</text>
<text transform="translate(1690.50 1789.00)" font-size="22.5" fill="#111">170kDa</text>
<text transform="translate(1690.50 1877.80)" font-size="22.5" fill="#111">170kDa</text>
<text transform="translate(1690.50 1952.30)" font-size="22.5" fill="#111">38kDa</text>
<line x1="866.80" y1="1530.90" x2="866.80" y2="1708.40" stroke="#111" stroke-width="3"/>
<line x1="866.80" y1="1766.80" x2="866.80" y2="1955.50" stroke="#111" stroke-width="3"/>
<text transform="translate(853.00 1617.50) rotate(-90) scale(0.8900 1)" font-size="25" text-anchor="middle" fill="#111">UACC812</text>
<text transform="translate(853.00 1861.00) rotate(-90) scale(0.8789 1)" font-size="25" text-anchor="middle" fill="#111">MDA-MB-231</text>
<text transform="translate(1032.50 1583.00) scale(0.9300 1)" font-size="22" text-anchor="middle" fill="#111">1.0</text>
<text transform="translate(1130.40 1583.00) scale(0.9300 1)" font-size="22" text-anchor="middle" fill="#111">0.5</text>
<text transform="translate(1248.00 1583.00) scale(0.9300 1)" font-size="22" text-anchor="middle" fill="#111">1.0</text>
<text transform="translate(1345.80 1583.00) scale(0.9300 1)" font-size="22" text-anchor="middle" fill="#111">2.3</text>
<text transform="translate(1446.80 1583.00) scale(0.9300 1)" font-size="22" text-anchor="middle" fill="#111">1.0</text>
<text transform="translate(1543.00 1583.00) scale(0.9300 1)" font-size="22" text-anchor="middle" fill="#111">0.5</text>
<text transform="translate(1639.00 1583.00) scale(0.9300 1)" font-size="22" text-anchor="middle" fill="#111">1.3</text>
<text transform="translate(1032.50 1665.00) scale(0.9300 1)" font-size="22" text-anchor="middle" fill="#111">1.0</text>
<text transform="translate(1130.40 1665.00) scale(0.9300 1)" font-size="22" text-anchor="middle" fill="#111">0.3</text>
<text transform="translate(1248.00 1665.00) scale(0.9300 1)" font-size="22" text-anchor="middle" fill="#111">1.0</text>
<text transform="translate(1345.80 1665.00) scale(0.9300 1)" font-size="22" text-anchor="middle" fill="#111">2.8</text>
<text transform="translate(1446.80 1665.00) scale(0.9300 1)" font-size="22" text-anchor="middle" fill="#111">1.0</text>
<text transform="translate(1543.00 1665.00) scale(0.9300 1)" font-size="22" text-anchor="middle" fill="#111">0.5</text>
<text transform="translate(1639.00 1665.00) scale(0.9300 1)" font-size="22" text-anchor="middle" fill="#111">1.3</text>
<text transform="translate(1032.50 1829.70) scale(0.9300 1)" font-size="22" text-anchor="middle" fill="#111">1.0</text>
<text transform="translate(1130.40 1829.70) scale(0.9300 1)" font-size="22" text-anchor="middle" fill="#111">0.4</text>
<text transform="translate(1248.00 1829.70) scale(0.9300 1)" font-size="22" text-anchor="middle" fill="#111">1.0</text>
<text transform="translate(1345.80 1829.70) scale(0.9300 1)" font-size="22" text-anchor="middle" fill="#111">2.9</text>
<text transform="translate(1446.80 1829.70) scale(0.9300 1)" font-size="22" text-anchor="middle" fill="#111">1.0</text>
<text transform="translate(1543.00 1829.70) scale(0.9300 1)" font-size="22" text-anchor="middle" fill="#111">0.7</text>
<text transform="translate(1639.00 1829.70) scale(0.9300 1)" font-size="22" text-anchor="middle" fill="#111">1.1</text>
<text transform="translate(1032.50 1916.30) scale(0.9300 1)" font-size="22" text-anchor="middle" fill="#111">1.0</text>
<text transform="translate(1130.40 1916.30) scale(0.9300 1)" font-size="22" text-anchor="middle" fill="#111">0.3</text>
<text transform="translate(1248.00 1916.30) scale(0.9300 1)" font-size="22" text-anchor="middle" fill="#111">1.0</text>
<text transform="translate(1345.80 1916.30) scale(0.9300 1)" font-size="22" text-anchor="middle" fill="#111">3.0</text>
<text transform="translate(1446.80 1916.30) scale(0.9300 1)" font-size="22" text-anchor="middle" fill="#111">1.0</text>
<text transform="translate(1543.00 1916.30) scale(0.9300 1)" font-size="22" text-anchor="middle" fill="#111">0.5</text>
<text transform="translate(1639.00 1916.30) scale(0.9300 1)" font-size="22" text-anchor="middle" fill="#111">1.2</text>
</g>
<g id="pF">
<text transform="translate(67.50 2045.40) scale(0.8000 1)" font-size="37" fill="#111" stroke="#111" stroke-width="1.2">F</text>
<text transform="translate(353.70 2044.20) scale(1.0016 1)" font-size="22.6" fill="#111">Position chr19:5567847-5567864</text>
<text transform="translate(247.30 2096.40) scale(1.0038 1)" font-size="22.4" text-anchor="end" fill="#111">TINCR WT</text>
<text transform="translate(261.00 2096.40) scale(0.8800 1)" font-size="22.4" fill="#111">5’</text>
<line x1="292.00" y1="2086.00" x2="316.50" y2="2086.00" stroke="#111" stroke-width="3.2"/>
<text transform="translate(321.67 2094.70) scale(0.8327 1)" font-size="24" fill="#111" stroke="#111" stroke-width="0.3">CGGACGAGG</text>
<text transform="translate(458.13 2094.70) scale(0.8381 1)" font-size="24" fill="#dc241c" stroke="#dc241c" stroke-width="0.3">CGCUGCU</text>
<text transform="translate(563.05 2094.70) scale(0.8349 1)" font-size="24" fill="#111" stroke="#111" stroke-width="0.3">GCTACCGC</text>
<line x1="685.70" y1="2086.00" x2="709.40" y2="2086.00" stroke="#111" stroke-width="3.2"/>
<text transform="translate(724.00 2096.40) scale(0.8800 1)" font-size="22.4" fill="#111">3’</text>
<text transform="translate(247.30 2158.00) scale(1.0029 1)" font-size="22.4" text-anchor="end" fill="#111">hsa-miR-503-5p</text>
<text transform="translate(261.00 2158.00) scale(0.8800 1)" font-size="22.4" fill="#111">3’</text>
<line x1="292.00" y1="2145.90" x2="316.50" y2="2145.90" stroke="#111" stroke-width="3.2"/>
<text transform="translate(321.67 2153.80) scale(0.8374 1)" font-size="24" fill="#111" stroke="#111" stroke-width="0.3">UUGACAAGG</text>
<text transform="translate(456.65 2153.80) scale(0.8292 1)" font-size="24" fill="#dc241c" stroke="#dc241c" stroke-width="0.3">GCGACGA</text>
<text transform="translate(561.58 2153.80) scale(0.8277 1)" font-size="24" fill="#111" stroke="#111" stroke-width="0.3">GCTACCGC</text>
<line x1="685.70" y1="2145.90" x2="709.40" y2="2145.90" stroke="#111" stroke-width="3.2"/>
<text transform="translate(724.00 2158.00) scale(0.8800 1)" font-size="22.4" fill="#111">5’</text>
<text transform="translate(247.30 2217.80) scale(1.0024 1)" font-size="22.4" text-anchor="end" fill="#111">TINCR mut</text>
<text transform="translate(261.00 2217.80) scale(0.8800 1)" font-size="22.4" fill="#111">5’</text>
<line x1="292.00" y1="2209.20" x2="316.50" y2="2209.20" stroke="#111" stroke-width="3.2"/>
<text transform="translate(321.67 2214.10) scale(0.8327 1)" font-size="24" fill="#111" stroke="#111" stroke-width="0.3">CGGACGAGG</text>
<text transform="translate(458.13 2214.10) scale(0.8361 1)" font-size="24" fill="#dc241c" stroke="#dc241c" stroke-width="0.3">AT AGT AG</text>
<text transform="translate(566.50 2214.10) scale(0.8313 1)" font-size="24" fill="#111" stroke="#111" stroke-width="0.3">GCTACCGC</text>
<line x1="685.70" y1="2209.20" x2="709.40" y2="2209.20" stroke="#111" stroke-width="3.2"/>
<text transform="translate(724.00 2217.80) scale(0.8800 1)" font-size="22.4" fill="#111">3’</text>
<line x1="466.50" y1="2099.40" x2="466.50" y2="2128.00" stroke="#111" stroke-width="2.9"/>
<line x1="463.50" y1="2163.40" x2="463.50" y2="2193.00" stroke="#111" stroke-width="2.6" stroke-dasharray="3 3"/>
<line x1="481.30" y1="2099.40" x2="481.30" y2="2128.00" stroke="#111" stroke-width="2.9"/>
<line x1="479.00" y1="2163.40" x2="479.00" y2="2193.00" stroke="#111" stroke-width="2.6" stroke-dasharray="3 3"/>
<line x1="496.60" y1="2099.40" x2="496.60" y2="2128.00" stroke="#111" stroke-width="2.9"/>
<line x1="494.60" y1="2163.40" x2="494.60" y2="2193.00" stroke="#111" stroke-width="2.6" stroke-dasharray="3 3"/>
<line x1="512.30" y1="2099.40" x2="512.30" y2="2128.00" stroke="#111" stroke-width="2.9"/>
<line x1="510.20" y1="2163.40" x2="510.20" y2="2193.00" stroke="#111" stroke-width="2.6" stroke-dasharray="3 3"/>
<line x1="527.00" y1="2099.40" x2="527.00" y2="2128.00" stroke="#111" stroke-width="2.9"/>
<line x1="524.60" y1="2163.40" x2="524.60" y2="2193.00" stroke="#111" stroke-width="2.6" stroke-dasharray="3 3"/>
<line x1="541.90" y1="2099.40" x2="541.90" y2="2128.00" stroke="#111" stroke-width="2.9"/>
<line x1="540.20" y1="2163.40" x2="540.20" y2="2193.00" stroke="#111" stroke-width="2.6" stroke-dasharray="3 3"/>
<line x1="555.70" y1="2099.40" x2="555.70" y2="2128.00" stroke="#111" stroke-width="2.9"/>
<line x1="556.40" y1="2163.40" x2="556.40" y2="2193.00" stroke="#111" stroke-width="2.6" stroke-dasharray="3 3"/>
<text transform="translate(66.50 2290.50) scale(0.8000 1)" font-size="37" fill="#111" stroke="#111" stroke-width="1.2">G</text>
<text transform="translate(340.00 2294.00) scale(1.0019 1)" font-size="22.6" fill="#111">Position chr7:55274319-55274324</text>
<text transform="translate(260.50 2347.10) scale(0.9964 1)" font-size="22.4" text-anchor="end" fill="#111">EGFR WT</text>
<text transform="translate(280.80 2347.10) scale(0.8800 1)" font-size="22.4" fill="#111">5’</text>
<line x1="311.80" y1="2336.30" x2="336.50" y2="2336.30" stroke="#111" stroke-width="3.2"/>
<text transform="translate(342.36 2344.70) scale(0.8365 1)" font-size="24" fill="#111" stroke="#111" stroke-width="0.3">AGACUACAAAAAUGAAGCUGCUC</text>
<line x1="692.00" y1="2336.30" x2="716.70" y2="2336.30" stroke="#111" stroke-width="3.2"/>
<text transform="translate(735.00 2347.10) scale(0.8800 1)" font-size="22.4" fill="#111">3’</text>
<text transform="translate(268.50 2407.70) scale(1.0101 1)" font-size="22.4" text-anchor="end" fill="#111">hsa-miR-503-5p</text>
<text transform="translate(280.80 2407.70) scale(0.8800 1)" font-size="22.4" fill="#111">3’</text>
<line x1="311.80" y1="2396.40" x2="336.50" y2="2396.40" stroke="#111" stroke-width="3.2"/>
<text transform="translate(337.93 2406.30) scale(0.8364 1)" font-size="24" fill="#111" stroke="#111" stroke-width="0.3">GACGUCUUGACAAGGGCGACGAU</text>
<line x1="692.00" y1="2396.40" x2="716.70" y2="2396.40" stroke="#111" stroke-width="3.2"/>
<text transform="translate(735.00 2407.70) scale(0.8800 1)" font-size="22.4" fill="#111">5’</text>
<text transform="translate(260.50 2467.80) scale(0.9981 1)" font-size="22.4" text-anchor="end" fill="#111">EGFR mut</text>
<text transform="translate(280.80 2467.80) scale(0.8800 1)" font-size="22.4" fill="#111">5’</text>
<line x1="311.80" y1="2459.50" x2="336.50" y2="2459.50" stroke="#111" stroke-width="3.2"/>
<text transform="translate(343.35 2468.60) scale(0.8374 1)" font-size="24" fill="#111" stroke="#111" stroke-width="0.3">AGACUACAAAAAUGAA</text>
<text transform="translate(578.82 2468.60) scale(0.8072 1)" font-size="24" fill="#dc241c" stroke="#dc241c" stroke-width="0.3">T AGT AG</text>
<text transform="translate(670.94 2468.60) scale(0.8518 1)" font-size="24" fill="#111" stroke="#111" stroke-width="0.3">C</text>
<line x1="692.00" y1="2459.50" x2="716.70" y2="2459.50" stroke="#111" stroke-width="3.2"/>
<text transform="translate(735.00 2467.80) scale(0.8800 1)" font-size="22.4" fill="#111">3’</text>
<line x1="584.20" y1="2350.60" x2="584.20" y2="2378.20" stroke="#111" stroke-width="2.9"/>
<line x1="584.20" y1="2412.70" x2="584.20" y2="2443.20" stroke="#111" stroke-width="2.6" stroke-dasharray="3 3"/>
<line x1="599.50" y1="2350.60" x2="599.50" y2="2378.20" stroke="#111" stroke-width="2.9"/>
<line x1="599.50" y1="2412.70" x2="599.50" y2="2443.20" stroke="#111" stroke-width="2.6" stroke-dasharray="3 3"/>
<line x1="614.30" y1="2350.60" x2="614.30" y2="2378.20" stroke="#111" stroke-width="2.9"/>
<line x1="614.30" y1="2412.70" x2="614.30" y2="2443.20" stroke="#111" stroke-width="2.6" stroke-dasharray="3 3"/>
<line x1="629.60" y1="2350.60" x2="629.60" y2="2378.20" stroke="#111" stroke-width="2.9"/>
<line x1="629.60" y1="2412.70" x2="629.60" y2="2443.20" stroke="#111" stroke-width="2.6" stroke-dasharray="3 3"/>
<line x1="644.30" y1="2350.60" x2="644.30" y2="2378.20" stroke="#111" stroke-width="2.9"/>
<line x1="644.30" y1="2412.70" x2="644.30" y2="2443.20" stroke="#111" stroke-width="2.6" stroke-dasharray="3 3"/>
<line x1="659.10" y1="2350.60" x2="659.10" y2="2378.20" stroke="#111" stroke-width="2.9"/>
<line x1="659.10" y1="2412.70" x2="659.10" y2="2443.20" stroke="#111" stroke-width="2.6" stroke-dasharray="3 3"/>
</g>
<g id="pH">
<path fill="#0000fe" d="M922.40 2339.00V2181.70Q922.40 2179.20 924.90 2179.20H979.90Q982.40 2179.20 982.40 2181.70V2339.00Z"/>
<path fill="#0000fe" d="M938.10 2174.30h28.60v3.00h-12.70V2180.20h-3.20V2177.30h-12.70Z"/>
<path fill="#fe0000" d="M1007.70 2339.00V2227.30Q1007.70 2224.80 1010.20 2224.80H1065.20Q1067.70 2224.80 1067.70 2227.30V2339.00Z"/>
<path fill="#fe0000" d="M1023.40 2223.60h28.60v3.00h-12.70V2225.80h-3.20V2226.60h-12.70Z"/>
<path fill="#0000fe" d="M1093.30 2339.00V2181.70Q1093.30 2179.20 1095.80 2179.20H1150.80Q1153.30 2179.20 1153.30 2181.70V2339.00Z"/>
<path fill="#0000fe" d="M1109.00 2174.30h28.60v3.00h-12.70V2180.20h-3.20V2177.30h-12.70Z"/>
<path fill="#0000fe" d="M1178.90 2339.00V2185.70Q1178.90 2183.20 1181.40 2183.20H1237.00Q1239.50 2183.20 1239.50 2185.70V2339.00Z"/>
<path fill="#0000fe" d="M1194.90 2176.10h28.60v3.00h-12.70V2184.20h-3.20V2179.10h-12.70Z"/>
<line x1="909.80" y1="2099.50" x2="909.80" y2="2340.25" stroke="#000" stroke-width="2.5"/>
<line x1="902.40" y1="2339.00" x2="1253.40" y2="2339.00" stroke="#000" stroke-width="2.5"/>
<text transform="translate(900.80 2344.90)" font-size="16.6" text-anchor="end">0.0</text>
<line x1="902.40" y1="2259.70" x2="909.80" y2="2259.70" stroke="#000" stroke-width="2.5"/>
<text transform="translate(900.80 2265.60)" font-size="16.6" text-anchor="end">0.5</text>
<line x1="902.40" y1="2180.10" x2="909.80" y2="2180.10" stroke="#000" stroke-width="2.5"/>
<text transform="translate(900.80 2186.00)" font-size="16.6" text-anchor="end">1.0</text>
<line x1="902.40" y1="2100.70" x2="909.80" y2="2100.70" stroke="#000" stroke-width="2.5"/>
<text transform="translate(900.80 2106.60)" font-size="16.6" text-anchor="end">1.5</text>
<line x1="952.30" y1="2339.00" x2="952.30" y2="2345.60" stroke="#000" stroke-width="2.5"/>
<line x1="1037.90" y1="2339.00" x2="1037.90" y2="2345.60" stroke="#000" stroke-width="2.5"/>
<line x1="1123.40" y1="2339.00" x2="1123.40" y2="2345.60" stroke="#000" stroke-width="2.5"/>
<line x1="1209.30" y1="2339.00" x2="1209.30" y2="2345.60" stroke="#000" stroke-width="2.5"/>
<text transform="translate(862.20 2213.50) rotate(-90) scale(0.9977 1)" font-size="22.6" text-anchor="middle">Relative luciferase activity</text>
<text transform="translate(998.40 2080.70) scale(1.0194 1)" font-size="23" text-anchor="middle" fill="#111">pmirGLO</text>
<text transform="translate(997.40 2107.10) scale(0.9962 1)" font-size="23" text-anchor="middle" fill="#111">TINCR</text>
<text transform="translate(1170.20 2080.70) scale(1.0194 1)" font-size="23" text-anchor="middle" fill="#111">pmirGLO</text>
<text transform="translate(1168.00 2107.10) scale(0.9868 1)" font-size="23" text-anchor="middle" fill="#111">TINCR-mut</text>
<line x1="934.70" y1="2118.50" x2="1058.80" y2="2118.50" stroke="#111" stroke-width="2.5"/>
<line x1="1105.00" y1="2118.50" x2="1229.70" y2="2118.50" stroke="#111" stroke-width="2.5"/>
<text transform="translate(964.80 2366.00) rotate(-45)" font-size="24" text-anchor="end">MiR NC</text>
<text transform="translate(1050.40 2366.00) rotate(-45)" font-size="24" text-anchor="end">MiR-503-5p mimic</text>
<text transform="translate(1135.90 2366.00) rotate(-45)" font-size="24" text-anchor="end">MiR NC</text>
<text transform="translate(1221.80 2366.00) rotate(-45)" font-size="24" text-anchor="end">MiR-503-5p mimic</text>
<text transform="translate(785.40 2045.60) scale(0.8000 1)" font-size="37.5" fill="#111" stroke="#111" stroke-width="1.2">H</text>
<text transform="translate(1039.40 2231.30)" font-size="33" text-anchor="middle" dx="0.53" letter-spacing="1.06" style="font-weight:400" stroke="#000" stroke-width="0.45">***</text>
<path fill="#0000fe" d="M1377.30 2339.00V2181.70Q1377.30 2179.20 1379.80 2179.20H1434.80Q1437.30 2179.20 1437.30 2181.70V2339.00Z"/>
<path fill="#0000fe" d="M1393.00 2151.80h28.60v3.00h-12.70V2180.20h-3.20V2154.80h-12.70Z"/>
<path fill="#fe0000" d="M1462.80 2339.00V2319.10Q1462.80 2316.60 1465.30 2316.60H1520.50Q1523.00 2316.60 1523.00 2319.10V2339.00Z"/>
<path fill="#fe0000" d="M1478.60 2286.20h28.60v3.00h-12.70V2317.60h-3.20V2289.20h-12.70Z"/>
<path fill="#0000fe" d="M1548.20 2339.00V2181.70Q1548.20 2179.20 1550.70 2179.20H1605.70Q1608.20 2179.20 1608.20 2181.70V2339.00Z"/>
<path fill="#0000fe" d="M1563.90 2175.50h28.60v3.00h-12.70V2180.20h-3.20V2178.50h-12.70Z"/>
<path fill="#0000fe" d="M1634.40 2339.00V2165.10Q1634.40 2162.60 1636.90 2162.60H1691.90Q1694.40 2162.60 1694.40 2165.10V2339.00Z"/>
<path fill="#0000fe" d="M1650.10 2131.80h28.60v3.00h-12.70V2163.60h-3.20V2134.80h-12.70Z"/>
<line x1="1364.70" y1="2099.50" x2="1364.70" y2="2340.25" stroke="#000" stroke-width="2.5"/>
<line x1="1358.20" y1="2339.00" x2="1707.00" y2="2339.00" stroke="#000" stroke-width="2.5"/>
<text transform="translate(1356.40 2344.90)" font-size="16.6" text-anchor="end">0.0</text>
<line x1="1358.20" y1="2259.70" x2="1364.70" y2="2259.70" stroke="#000" stroke-width="2.5"/>
<text transform="translate(1356.40 2265.60)" font-size="16.6" text-anchor="end">0.5</text>
<line x1="1358.20" y1="2180.10" x2="1364.70" y2="2180.10" stroke="#000" stroke-width="2.5"/>
<text transform="translate(1356.40 2186.00)" font-size="16.6" text-anchor="end">1.0</text>
<line x1="1358.20" y1="2100.70" x2="1364.70" y2="2100.70" stroke="#000" stroke-width="2.5"/>
<text transform="translate(1356.40 2106.60)" font-size="16.6" text-anchor="end">1.5</text>
<line x1="1407.30" y1="2339.00" x2="1407.30" y2="2345.60" stroke="#000" stroke-width="2.5"/>
<line x1="1492.90" y1="2339.00" x2="1492.90" y2="2345.60" stroke="#000" stroke-width="2.5"/>
<line x1="1578.20" y1="2339.00" x2="1578.20" y2="2345.60" stroke="#000" stroke-width="2.5"/>
<line x1="1664.40" y1="2339.00" x2="1664.40" y2="2345.60" stroke="#000" stroke-width="2.5"/>
<text transform="translate(1317.20 2213.50) rotate(-90) scale(0.9977 1)" font-size="22.6" text-anchor="middle">Relative luciferase activity</text>
<text transform="translate(1452.70 2080.70) scale(1.0194 1)" font-size="23" text-anchor="middle" fill="#111">pmirGLO</text>
<text transform="translate(1447.50 2107.10) scale(1.0111 1)" font-size="23" text-anchor="middle" fill="#111">EGFR</text>
<text transform="translate(1618.50 2080.70) scale(1.0194 1)" font-size="23" text-anchor="middle" fill="#111">pmirGLO</text>
<text transform="translate(1619.00 2107.10) scale(0.9850 1)" font-size="23" text-anchor="middle" fill="#111">EGFR-mut</text>
<line x1="1389.00" y1="2118.50" x2="1513.70" y2="2118.50" stroke="#111" stroke-width="2.5"/>
<line x1="1559.90" y1="2118.50" x2="1684.60" y2="2118.50" stroke="#111" stroke-width="2.5"/>
<text transform="translate(1419.80 2366.00) rotate(-45)" font-size="24" text-anchor="end">MiR NC</text>
<text transform="translate(1505.40 2366.00) rotate(-45)" font-size="24" text-anchor="end">MiR-503-5p mimic</text>
<text transform="translate(1590.70 2366.00) rotate(-45)" font-size="24" text-anchor="end">MiR NC</text>
<text transform="translate(1676.90 2366.00) rotate(-45)" font-size="24" text-anchor="end">MiR-503-5p mimic</text>
<text transform="translate(1298.50 2055.40) scale(0.8000 1)" font-size="37.5" fill="#111" stroke="#111" stroke-width="1.2">I</text>
<text transform="translate(1492.80 2290.70)" font-size="33" text-anchor="middle" dx="0.53" letter-spacing="1.06" style="font-weight:400" stroke="#000" stroke-width="0.45">*</text>
</g>
</svg>
</body></html>
